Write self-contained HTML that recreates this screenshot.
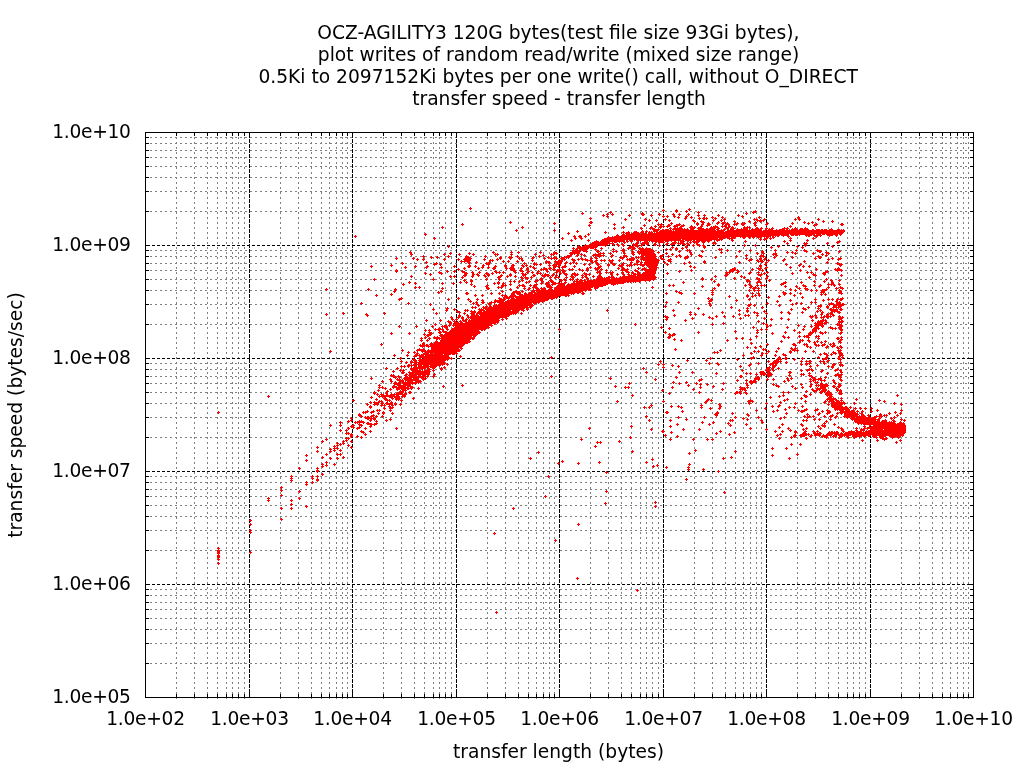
<!DOCTYPE html>
<html lang="en"><head><meta charset="utf-8"><title>OCZ-AGILITY3 random write plot</title>
<style>
html,body{margin:0;padding:0;background:#fff;}
body{width:1024px;height:768px;overflow:hidden;}
svg{display:block;}
text{font-family:"DejaVu Sans","Liberation Sans",sans-serif;font-size:18.67px;fill:#000;}
</style></head><body>
<svg width="1024" height="768" viewBox="0 0 1024 768">
<rect width="1024" height="768" fill="#fff"/>
<g shape-rendering="crispEdges" fill="none">
<path d="M176.5 699V132M194.5 699V132M207.5 699V132M217.5 699V132M226.5 699V132M232.5 699V132M238.5 699V132M244.5 699V132M280.5 699V132M298.5 699V132M311.5 699V132M321.5 699V132M329.5 699V132M336.5 699V132M342.5 699V132M347.5 699V132M383.5 699V132M401.5 699V132M414.5 699V132M424.5 699V132M433.5 699V132M439.5 699V132M445.5 699V132M451.5 699V132M487.5 699V132M505.5 699V132M518.5 699V132M528.5 699V132M536.5 699V132M543.5 699V132M549.5 699V132M554.5 699V132M590.5 699V132M608.5 699V132M621.5 699V132M631.5 699V132M640.5 699V132M646.5 699V132M652.5 699V132M658.5 699V132M694.5 699V132M712.5 699V132M725.5 699V132M735.5 699V132M743.5 699V132M750.5 699V132M756.5 699V132M761.5 699V132M797.5 699V132M815.5 699V132M828.5 699V132M838.5 699V132M847.5 699V132M853.5 699V132M859.5 699V132M865.5 699V132M901.5 699V132M919.5 699V132M932.5 699V132M942.5 699V132M950.5 699V132M957.5 699V132M963.5 699V132M968.5 699V132" stroke="#808080" stroke-width="1" stroke-dasharray="2 3"/>
<path d="M145 663.5H974M145 643.5H974M145 629.5H974M145 618.5H974M145 609.5H974M145 602.5H974M145 595.5H974M145 589.5H974M145 550.5H974M145 530.5H974M145 516.5H974M145 505.5H974M145 496.5H974M145 489.5H974M145 482.5H974M145 476.5H974M145 437.5H974M145 417.5H974M145 403.5H974M145 392.5H974M145 383.5H974M145 376.5H974M145 369.5H974M145 363.5H974M145 324.5H974M145 304.5H974M145 290.5H974M145 279.5H974M145 270.5H974M145 263.5H974M145 256.5H974M145 250.5H974M145 211.5H974M145 191.5H974M145 177.5H974M145 166.5H974M145 157.5H974M145 150.5H974M145 143.5H974M145 137.5H974" stroke="#808080" stroke-width="1" stroke-dasharray="2 3"/>
<path d="M249.5 698V132M352.5 698V132M456.5 698V132M559.5 698V132M663.5 698V132M766.5 698V132M870.5 698V132" stroke="#000" stroke-width="1" stroke-dasharray="4 1"/>
<path d="M147 584.5H974M147 471.5H974M147 358.5H974M147 245.5H974" stroke="#000" stroke-width="1" stroke-dasharray="3 2"/>
<path d="M176.5 697v-3M176.5 133v3M194.5 697v-3M194.5 133v3M207.5 697v-3M207.5 133v3M217.5 697v-3M217.5 133v3M226.5 697v-3M226.5 133v3M232.5 697v-3M232.5 133v3M238.5 697v-3M238.5 133v3M244.5 697v-3M244.5 133v3M280.5 697v-3M280.5 133v3M298.5 697v-3M298.5 133v3M311.5 697v-3M311.5 133v3M321.5 697v-3M321.5 133v3M329.5 697v-3M329.5 133v3M336.5 697v-3M336.5 133v3M342.5 697v-3M342.5 133v3M347.5 697v-3M347.5 133v3M383.5 697v-3M383.5 133v3M401.5 697v-3M401.5 133v3M414.5 697v-3M414.5 133v3M424.5 697v-3M424.5 133v3M433.5 697v-3M433.5 133v3M439.5 697v-3M439.5 133v3M445.5 697v-3M445.5 133v3M451.5 697v-3M451.5 133v3M487.5 697v-3M487.5 133v3M505.5 697v-3M505.5 133v3M518.5 697v-3M518.5 133v3M528.5 697v-3M528.5 133v3M536.5 697v-3M536.5 133v3M543.5 697v-3M543.5 133v3M549.5 697v-3M549.5 133v3M554.5 697v-3M554.5 133v3M590.5 697v-3M590.5 133v3M608.5 697v-3M608.5 133v3M621.5 697v-3M621.5 133v3M631.5 697v-3M631.5 133v3M640.5 697v-3M640.5 133v3M646.5 697v-3M646.5 133v3M652.5 697v-3M652.5 133v3M658.5 697v-3M658.5 133v3M694.5 697v-3M694.5 133v3M712.5 697v-3M712.5 133v3M725.5 697v-3M725.5 133v3M735.5 697v-3M735.5 133v3M743.5 697v-3M743.5 133v3M750.5 697v-3M750.5 133v3M756.5 697v-3M756.5 133v3M761.5 697v-3M761.5 133v3M797.5 697v-3M797.5 133v3M815.5 697v-3M815.5 133v3M828.5 697v-3M828.5 133v3M838.5 697v-3M838.5 133v3M847.5 697v-3M847.5 133v3M853.5 697v-3M853.5 133v3M859.5 697v-3M859.5 133v3M865.5 697v-3M865.5 133v3M901.5 697v-3M901.5 133v3M919.5 697v-3M919.5 133v3M932.5 697v-3M932.5 133v3M942.5 697v-3M942.5 133v3M950.5 697v-3M950.5 133v3M957.5 697v-3M957.5 133v3M963.5 697v-3M963.5 133v3M968.5 697v-3M968.5 133v3M249.5 697v-4M249.5 133v4M352.5 697v-4M352.5 133v4M456.5 697v-4M456.5 133v4M559.5 697v-4M559.5 133v4M663.5 697v-4M663.5 133v4M766.5 697v-4M766.5 133v4M870.5 697v-4M870.5 133v4M146 663.5h3M973 663.5h-3M146 643.5h3M973 643.5h-3M146 629.5h3M973 629.5h-3M146 618.5h3M973 618.5h-3M146 609.5h3M973 609.5h-3M146 602.5h3M973 602.5h-3M146 595.5h3M973 595.5h-3M146 589.5h3M973 589.5h-3M146 550.5h3M973 550.5h-3M146 530.5h3M973 530.5h-3M146 516.5h3M973 516.5h-3M146 505.5h3M973 505.5h-3M146 496.5h3M973 496.5h-3M146 489.5h3M973 489.5h-3M146 482.5h3M973 482.5h-3M146 476.5h3M973 476.5h-3M146 437.5h3M973 437.5h-3M146 417.5h3M973 417.5h-3M146 403.5h3M973 403.5h-3M146 392.5h3M973 392.5h-3M146 383.5h3M973 383.5h-3M146 376.5h3M973 376.5h-3M146 369.5h3M973 369.5h-3M146 363.5h3M973 363.5h-3M146 324.5h3M973 324.5h-3M146 304.5h3M973 304.5h-3M146 290.5h3M973 290.5h-3M146 279.5h3M973 279.5h-3M146 270.5h3M973 270.5h-3M146 263.5h3M973 263.5h-3M146 256.5h3M973 256.5h-3M146 250.5h3M973 250.5h-3M146 211.5h3M973 211.5h-3M146 191.5h3M973 191.5h-3M146 177.5h3M973 177.5h-3M146 166.5h3M973 166.5h-3M146 157.5h3M973 157.5h-3M146 150.5h3M973 150.5h-3M146 143.5h3M973 143.5h-3M146 137.5h3M973 137.5h-3M146 584.5h4M973 584.5h-4M146 471.5h4M973 471.5h-4M146 358.5h4M973 358.5h-4M146 245.5h4M973 245.5h-4" stroke="#000" stroke-width="1"/>
<rect x="145.5" y="132.5" width="828" height="565" stroke="#000" stroke-width="1"/>
</g>
<g text-anchor="end" style="letter-spacing:-0.3px">
<text x="130.7" y="702.5">1.0e+05</text>
<text x="130.7" y="589.5">1.0e+06</text>
<text x="130.7" y="476.5">1.0e+07</text>
<text x="130.7" y="363.5">1.0e+08</text>
<text x="130.7" y="250.5">1.0e+09</text>
<text x="130.7" y="137.5">1.0e+10</text>
</g>
<g text-anchor="middle" style="letter-spacing:-0.3px">
<text x="145.5" y="725">1.0e+02</text>
<text x="249.5" y="725">1.0e+03</text>
<text x="352.5" y="725">1.0e+04</text>
<text x="456.5" y="725">1.0e+05</text>
<text x="559.5" y="725">1.0e+06</text>
<text x="663.5" y="725">1.0e+07</text>
<text x="766.5" y="725">1.0e+08</text>
<text x="870.5" y="725">1.0e+09</text>
<text x="973.5" y="725">1.0e+10</text>
</g>
<g text-anchor="middle">
<text x="558.5" y="758">transfer length (bytes)</text>
<text transform="translate(22,415) rotate(-90)">transfer speed (bytes/sec)</text>
<text x="558.4" y="39.0">OCZ-AGILITY3 120G bytes(test file size 93Gi bytes),</text>
<text x="558.6" y="60.9">plot writes of random read/write (mixed size range)</text>
<text x="558.1" y="82.8">0.5Ki to 2097152Ki bytes per one write() call, without O_DIRECT</text>
<text x="559.0" y="104.7">transfer speed - transfer length</text>
</g>
<path d="M470 207.5h1M469 208.5h3M689 208.5h1M470 209.5h1M663 209.5h1M676 209.5h1M688 209.5h3M662 210.5h3M675 210.5h3M686 210.5h1M689 210.5h1M755 210.5h1M610 211.5h1M663 211.5h1M675 211.5h3M685 211.5h3M698 211.5h1M753 211.5h4M582 212.5h1M609 212.5h3M642 212.5h1M676 212.5h1M686 212.5h1M697 212.5h3M746 212.5h1M752 212.5h4M581 213.5h3M607 213.5h1M610 213.5h1M612 213.5h1M641 213.5h3M659 213.5h1M673 213.5h1M679 213.5h1M688 213.5h1M698 213.5h1M745 213.5h3M753 213.5h1M582 214.5h1M603 214.5h1M606 214.5h3M611 214.5h3M629 214.5h1M641 214.5h4M651 214.5h1M658 214.5h3M672 214.5h3M678 214.5h3M687 214.5h3M698 214.5h1M704 214.5h1M718 214.5h1M738 214.5h1M746 214.5h1M602 215.5h3M607 215.5h1M612 215.5h1M628 215.5h3M642 215.5h2M650 215.5h3M659 215.5h1M663 215.5h1M667 215.5h1M673 215.5h2M679 215.5h1M686 215.5h1M688 215.5h1M697 215.5h3M703 215.5h3M717 215.5h3M737 215.5h3M742 215.5h1M603 216.5h1M606 216.5h3M629 216.5h1M651 216.5h1M662 216.5h3M666 216.5h3M673 216.5h3M678 216.5h1M685 216.5h3M691 216.5h1M698 216.5h1M704 216.5h1M712 216.5h1M718 216.5h1M722 216.5h1M738 216.5h1M741 216.5h3M759 216.5h1M798 216.5h1M590 217.5h1M607 217.5h1M663 217.5h1M667 217.5h1M674 217.5h1M677 217.5h3M685 217.5h2M690 217.5h3M699 217.5h1M703 217.5h2M706 217.5h1M711 217.5h3M715 217.5h1M721 217.5h3M742 217.5h1M758 217.5h3M797 217.5h3M589 218.5h3M625 218.5h1M645 218.5h1M665 218.5h1M678 218.5h1M684 218.5h3M691 218.5h1M698 218.5h3M702 218.5h6M712 218.5h1M714 218.5h3M722 218.5h1M724 218.5h1M754 218.5h1M756 218.5h1M759 218.5h1M764 218.5h1M795 218.5h1M798 218.5h2M818 218.5h1M590 219.5h1M624 219.5h3M644 219.5h3M649 219.5h1M656 219.5h1M664 219.5h3M669 219.5h1M685 219.5h1M693 219.5h1M699 219.5h1M703 219.5h2M706 219.5h1M713 219.5h1M715 219.5h1M721 219.5h1M723 219.5h3M753 219.5h5M760 219.5h1M763 219.5h3M794 219.5h3M798 219.5h3M817 219.5h3M625 220.5h1M645 220.5h1M648 220.5h3M655 220.5h3M665 220.5h1M668 220.5h3M692 220.5h3M701 220.5h1M712 220.5h3M720 220.5h3M724 220.5h1M734 220.5h1M749 220.5h1M754 220.5h1M756 220.5h9M795 220.5h1M799 220.5h1M818 220.5h1M823 220.5h1M832 220.5h1M510 221.5h1M590 221.5h2M649 221.5h1M656 221.5h1M669 221.5h1M693 221.5h3M700 221.5h4M713 221.5h1M718 221.5h1M721 221.5h1M724 221.5h1M733 221.5h3M748 221.5h3M755 221.5h1M757 221.5h1M759 221.5h3M763 221.5h1M804 221.5h1M812 221.5h1M822 221.5h3M831 221.5h3M509 222.5h3M554 222.5h1M589 222.5h4M671 222.5h1M694 222.5h1M697 222.5h1M701 222.5h4M708 222.5h1M717 222.5h3M722 222.5h4M727 222.5h1M734 222.5h1M737 222.5h1M742 222.5h1M744 222.5h1M749 222.5h1M754 222.5h3M760 222.5h1M767 222.5h1M792 222.5h1M803 222.5h3M808 222.5h1M811 222.5h3M823 222.5h1M832 222.5h1M462 223.5h1M510 223.5h1M553 223.5h3M590 223.5h2M614 223.5h1M658 223.5h1M661 223.5h1M670 223.5h3M679 223.5h1M696 223.5h3M702 223.5h2M707 223.5h3M716 223.5h3M721 223.5h4M726 223.5h3M734 223.5h1M736 223.5h3M741 223.5h5M753 223.5h3M766 223.5h3M791 223.5h3M804 223.5h1M807 223.5h3M812 223.5h1M816 223.5h1M841 223.5h2M461 224.5h3M554 224.5h1M589 224.5h1M613 224.5h3M644 224.5h1M657 224.5h6M668 224.5h2M671 224.5h1M676 224.5h5M683 224.5h1M696 224.5h3M701 224.5h3M707 224.5h4M717 224.5h1M722 224.5h2M725 224.5h5M733 224.5h5M741 224.5h4M754 224.5h2M765 224.5h3M792 224.5h1M808 224.5h1M814 224.5h4M840 224.5h4M462 225.5h1M588 225.5h3M614 225.5h1M643 225.5h3M655 225.5h1M658 225.5h1M660 225.5h2M663 225.5h1M667 225.5h4M674 225.5h6M681 225.5h4M691 225.5h1M697 225.5h1M701 225.5h2M706 225.5h4M715 225.5h1M722 225.5h1M724 225.5h3M728 225.5h2M734 225.5h1M736 225.5h1M742 225.5h2M754 225.5h3M766 225.5h1M790 225.5h1M813 225.5h4M841 225.5h2M442 226.5h1M522 226.5h1M589 226.5h1M623 226.5h1M644 226.5h1M651 226.5h1M654 226.5h3M659 226.5h6M666 226.5h4M673 226.5h5M680 226.5h4M690 226.5h3M694 226.5h1M700 226.5h3M707 226.5h1M711 226.5h1M713 226.5h5M721 226.5h6M728 226.5h3M732 226.5h1M744 226.5h1M747 226.5h1M749 226.5h1M755 226.5h1M789 226.5h3M814 226.5h1M441 227.5h3M521 227.5h3M614 227.5h1M622 227.5h3M641 227.5h1M650 227.5h3M655 227.5h1M659 227.5h3M663 227.5h1M667 227.5h1M670 227.5h1M674 227.5h2M677 227.5h1M679 227.5h3M689 227.5h7M698 227.5h4M710 227.5h9M722 227.5h1M725 227.5h5M731 227.5h3M743 227.5h8M756 227.5h2M761 227.5h1M766 227.5h1M772 227.5h1M784 227.5h1M787 227.5h1M790 227.5h1M795 227.5h1M805 227.5h1M442 228.5h1M522 228.5h1M613 228.5h3M623 228.5h1M640 228.5h3M649 228.5h6M658 228.5h1M660 228.5h1M669 228.5h3M673 228.5h10M684 228.5h1M687 228.5h1M690 228.5h5M697 228.5h7M706 228.5h2M709 228.5h7M717 228.5h3M724 228.5h1M726 228.5h3M730 228.5h5M737 228.5h1M741 228.5h1M743 228.5h5M749 228.5h1M752 228.5h1M755 228.5h4M760 228.5h3M765 228.5h3M769 228.5h1M771 228.5h3M782 228.5h7M792 228.5h1M794 228.5h3M800 228.5h3M804 228.5h4M831 228.5h1M516 229.5h1M554 229.5h1M614 229.5h1M641 229.5h1M650 229.5h1M652 229.5h8M662 229.5h2M665 229.5h4M670 229.5h1M672 229.5h17M690 229.5h4M698 229.5h17M716 229.5h3M721 229.5h1M723 229.5h3M727 229.5h2M730 229.5h4M736 229.5h12M749 229.5h1M751 229.5h11M765 229.5h2M768 229.5h5M776 229.5h1M779 229.5h6M786 229.5h2M789 229.5h1M791 229.5h7M799 229.5h10M812 229.5h2M816 229.5h4M821 229.5h2M824 229.5h3M829 229.5h4M837 229.5h3M841 229.5h1M843 229.5h1M515 230.5h3M553 230.5h3M577 230.5h1M642 230.5h1M646 230.5h1M653 230.5h6M660 230.5h12M673 230.5h1M675 230.5h41M717 230.5h8M727 230.5h35M763 230.5h82M516 231.5h1M554 231.5h1M576 231.5h3M605 231.5h1M623 231.5h1M628 231.5h1M634 231.5h3M641 231.5h3M645 231.5h3M649 231.5h1M651 231.5h1M653 231.5h5M659 231.5h65M725 231.5h120M568 232.5h1M577 232.5h1M604 232.5h3M622 232.5h3M626 232.5h4M633 232.5h6M640 232.5h4M645 232.5h2M648 232.5h5M654 232.5h1M656 232.5h188M425 233.5h1M567 233.5h3M588 233.5h1M605 233.5h1M623 233.5h1M625 233.5h5M631 233.5h9M641 233.5h6M648 233.5h195M424 234.5h3M568 234.5h1M587 234.5h3M617 234.5h1M622 234.5h3M626 234.5h163M790 234.5h25M816 234.5h5M822 234.5h3M826 234.5h12M839 234.5h3M355 235.5h1M425 235.5h1M574 235.5h1M579 235.5h2M585 235.5h1M588 235.5h1M616 235.5h3M621 235.5h159M781 235.5h8M791 235.5h3M795 235.5h3M799 235.5h1M805 235.5h7M813 235.5h9M827 235.5h6M835 235.5h3M840 235.5h1M354 236.5h3M573 236.5h3M578 236.5h4M584 236.5h3M608 236.5h1M612 236.5h1M614 236.5h157M772 236.5h2M775 236.5h1M777 236.5h2M783 236.5h1M787 236.5h3M806 236.5h1M808 236.5h2M814 236.5h4M820 236.5h1M829 236.5h1M836 236.5h1M355 237.5h1M434 237.5h1M562 237.5h1M574 237.5h2M579 237.5h3M585 237.5h1M607 237.5h123M731 237.5h5M740 237.5h1M742 237.5h4M748 237.5h3M752 237.5h3M757 237.5h5M764 237.5h1M766 237.5h3M770 237.5h1M772 237.5h3M788 237.5h1M790 237.5h1M813 237.5h1M816 237.5h1M433 238.5h3M561 238.5h3M574 238.5h3M580 238.5h3M604 238.5h114M719 238.5h6M727 238.5h8M743 238.5h2M749 238.5h1M753 238.5h1M758 238.5h1M760 238.5h1M764 238.5h4M769 238.5h3M773 238.5h1M789 238.5h3M812 238.5h3M434 239.5h1M562 239.5h1M571 239.5h1M575 239.5h1M581 239.5h1M588 239.5h1M602 239.5h79M682 239.5h41M729 239.5h1M731 239.5h2M759 239.5h3M763 239.5h4M770 239.5h1M790 239.5h1M807 239.5h1M813 239.5h1M570 240.5h3M587 240.5h3M596 240.5h1M601 240.5h24M626 240.5h2M629 240.5h4M634 240.5h1M636 240.5h48M685 240.5h7M693 240.5h2M696 240.5h16M714 240.5h1M716 240.5h4M721 240.5h1M731 240.5h3M745 240.5h1M760 240.5h1M764 240.5h1M784 240.5h1M789 240.5h3M806 240.5h3M839 240.5h1M571 241.5h1M588 241.5h1M594 241.5h5M600 241.5h25M626 241.5h3M630 241.5h3M637 241.5h2M640 241.5h1M644 241.5h4M649 241.5h1M651 241.5h13M665 241.5h4M671 241.5h1M674 241.5h2M678 241.5h1M680 241.5h5M687 241.5h2M690 241.5h1M692 241.5h8M701 241.5h5M707 241.5h3M714 241.5h1M717 241.5h1M732 241.5h1M744 241.5h3M783 241.5h3M790 241.5h1M807 241.5h1M837 241.5h4M592 242.5h18M612 242.5h1M614 242.5h3M619 242.5h1M623 242.5h3M627 242.5h1M631 242.5h1M636 242.5h3M642 242.5h7M652 242.5h1M655 242.5h2M658 242.5h7M667 242.5h1M672 242.5h5M678 242.5h1M680 242.5h4M687 242.5h1M689 242.5h3M693 242.5h6M702 242.5h3M708 242.5h1M713 242.5h3M745 242.5h1M784 242.5h1M787 242.5h1M804 242.5h1M806 242.5h1M827 242.5h1M836 242.5h4M591 243.5h23M617 243.5h1M622 243.5h1M624 243.5h1M633 243.5h1M635 243.5h4M641 243.5h8M654 243.5h2M659 243.5h1M663 243.5h1M666 243.5h3M671 243.5h5M677 243.5h8M686 243.5h3M690 243.5h1M694 243.5h1M696 243.5h2M703 243.5h1M712 243.5h5M786 243.5h3M803 243.5h5M826 243.5h3M837 243.5h1M585 244.5h1M589 244.5h19M609 244.5h1M612 244.5h3M616 244.5h3M621 244.5h3M632 244.5h6M641 244.5h4M646 244.5h3M653 244.5h4M659 244.5h1M665 244.5h3M670 244.5h5M678 244.5h1M680 244.5h1M682 244.5h4M687 244.5h3M693 244.5h1M696 244.5h4M703 244.5h1M713 244.5h1M715 244.5h1M744 244.5h1M755 244.5h1M787 244.5h1M804 244.5h3M827 244.5h1M448 245.5h1M578 245.5h1M584 245.5h14M599 245.5h8M613 245.5h1M617 245.5h3M622 245.5h3M630 245.5h1M633 245.5h6M640 245.5h3M647 245.5h1M654 245.5h2M658 245.5h3M666 245.5h1M671 245.5h1M684 245.5h1M686 245.5h1M688 245.5h1M692 245.5h3M697 245.5h4M702 245.5h3M743 245.5h3M754 245.5h3M778 245.5h1M797 245.5h1M804 245.5h3M832 245.5h1M447 246.5h3M577 246.5h4M582 246.5h16M605 246.5h1M618 246.5h1M623 246.5h1M629 246.5h5M635 246.5h4M641 246.5h1M659 246.5h1M672 246.5h1M685 246.5h3M693 246.5h1M699 246.5h1M703 246.5h3M744 246.5h1M755 246.5h1M771 246.5h1M777 246.5h3M796 246.5h3M802 246.5h1M805 246.5h1M831 246.5h3M448 247.5h1M573 247.5h1M577 247.5h20M601 247.5h1M628 247.5h7M637 247.5h1M639 247.5h1M642 247.5h1M646 247.5h1M671 247.5h3M676 247.5h1M682 247.5h1M685 247.5h3M703 247.5h3M770 247.5h3M778 247.5h1M797 247.5h1M801 247.5h3M832 247.5h1M572 248.5h3M576 248.5h13M590 248.5h4M595 248.5h1M600 248.5h3M613 248.5h1M623 248.5h1M627 248.5h4M632 248.5h4M638 248.5h6M645 248.5h6M666 248.5h1M670 248.5h1M672 248.5h1M675 248.5h3M681 248.5h3M686 248.5h1M704 248.5h1M719 248.5h1M721 248.5h1M771 248.5h1M802 248.5h1M573 249.5h1M575 249.5h3M579 249.5h9M594 249.5h3M601 249.5h1M612 249.5h3M622 249.5h3M628 249.5h1M631 249.5h4M639 249.5h14M665 249.5h3M669 249.5h3M675 249.5h3M682 249.5h1M687 249.5h1M689 249.5h1M718 249.5h5M727 249.5h1M750 249.5h1M775 249.5h1M796 249.5h1M804 249.5h1M817 249.5h1M572 250.5h9M582 250.5h5M595 250.5h1M597 250.5h2M613 250.5h1M616 250.5h1M621 250.5h4M632 250.5h1M638 250.5h1M640 250.5h14M666 250.5h1M670 250.5h1M676 250.5h1M679 250.5h1M686 250.5h5M702 250.5h1M719 250.5h1M721 250.5h1M726 250.5h3M739 250.5h1M749 250.5h3M762 250.5h1M774 250.5h3M795 250.5h3M803 250.5h4M816 250.5h5M839 250.5h1M410 251.5h1M493 251.5h1M511 251.5h1M518 251.5h1M540 251.5h1M554 251.5h1M572 251.5h9M583 251.5h5M596 251.5h4M612 251.5h6M622 251.5h3M631 251.5h3M637 251.5h18M658 251.5h1M678 251.5h3M687 251.5h1M689 251.5h2M701 251.5h3M721 251.5h1M727 251.5h1M738 251.5h3M750 251.5h1M761 251.5h3M775 251.5h1M787 251.5h1M792 251.5h1M796 251.5h1M804 251.5h4M817 251.5h5M826 251.5h1M838 251.5h3M409 252.5h3M450 252.5h1M469 252.5h1M492 252.5h3M510 252.5h3M517 252.5h3M539 252.5h3M553 252.5h4M570 252.5h10M586 252.5h1M597 252.5h2M600 252.5h1M603 252.5h1M610 252.5h1M613 252.5h1M616 252.5h1M623 252.5h2M632 252.5h3M637 252.5h17M657 252.5h3M666 252.5h1M679 252.5h1M689 252.5h3M702 252.5h1M720 252.5h3M739 252.5h1M757 252.5h1M761 252.5h3M775 252.5h1M786 252.5h3M791 252.5h3M795 252.5h1M806 252.5h1M813 252.5h1M819 252.5h2M825 252.5h4M839 252.5h1M410 253.5h2M444 253.5h1M449 253.5h3M459 253.5h1M468 253.5h3M473 253.5h1M493 253.5h1M495 253.5h1M497 253.5h1M511 253.5h1M518 253.5h1M535 253.5h1M540 253.5h1M551 253.5h1M553 253.5h5M569 253.5h11M581 253.5h1M595 253.5h1M598 253.5h7M609 253.5h3M623 253.5h3M631 253.5h3M638 253.5h17M658 253.5h1M665 253.5h3M672 253.5h1M690 253.5h2M721 253.5h1M756 253.5h3M762 253.5h3M773 253.5h4M787 253.5h1M792 253.5h1M794 253.5h3M812 253.5h3M822 253.5h1M826 253.5h4M410 254.5h3M443 254.5h3M450 254.5h1M458 254.5h3M469 254.5h1M472 254.5h3M494 254.5h5M510 254.5h3M534 254.5h3M543 254.5h1M550 254.5h5M556 254.5h1M570 254.5h3M574 254.5h1M577 254.5h2M580 254.5h3M584 254.5h1M593 254.5h8M603 254.5h1M610 254.5h1M612 254.5h1M624 254.5h1M632 254.5h3M639 254.5h1M641 254.5h15M662 254.5h1M666 254.5h1M671 254.5h3M679 254.5h1M690 254.5h3M699 254.5h1M746 254.5h1M757 254.5h1M761 254.5h1M763 254.5h1M772 254.5h5M795 254.5h1M813 254.5h1M821 254.5h3M826 254.5h1M828 254.5h1M411 255.5h1M423 255.5h1M444 255.5h1M448 255.5h1M459 255.5h1M466 255.5h1M473 255.5h1M485 255.5h1M495 255.5h1M497 255.5h1M511 255.5h1M517 255.5h1M535 255.5h1M539 255.5h1M542 255.5h3M551 255.5h1M553 255.5h1M567 255.5h5M576 255.5h3M581 255.5h1M583 255.5h3M592 255.5h13M611 255.5h3M623 255.5h4M633 255.5h1M641 255.5h15M660 255.5h4M668 255.5h1M672 255.5h1M676 255.5h1M678 255.5h3M687 255.5h1M691 255.5h1M698 255.5h4M736 255.5h1M745 255.5h3M760 255.5h4M773 255.5h1M775 255.5h3M818 255.5h1M822 255.5h1M825 255.5h3M422 256.5h3M431 256.5h1M437 256.5h1M447 256.5h3M465 256.5h4M484 256.5h3M500 256.5h1M509 256.5h1M511 256.5h1M516 256.5h3M533 256.5h1M538 256.5h3M543 256.5h1M548 256.5h1M554 256.5h1M564 256.5h1M566 256.5h5M577 256.5h1M584 256.5h1M593 256.5h1M595 256.5h1M597 256.5h4M603 256.5h1M610 256.5h3M620 256.5h1M623 256.5h5M636 256.5h1M638 256.5h1M640 256.5h4M645 256.5h12M659 256.5h4M667 256.5h3M675 256.5h3M679 256.5h3M685 256.5h4M699 256.5h4M715 256.5h1M735 256.5h3M746 256.5h1M759 256.5h6M774 256.5h1M776 256.5h1M792 256.5h1M817 256.5h4M826 256.5h1M396 257.5h1M413 257.5h1M423 257.5h1M430 257.5h3M436 257.5h3M448 257.5h1M465 257.5h6M485 257.5h1M499 257.5h3M508 257.5h5M517 257.5h1M519 257.5h1M521 257.5h1M532 257.5h3M539 257.5h1M544 257.5h1M547 257.5h3M551 257.5h1M553 257.5h4M561 257.5h9M581 257.5h1M591 257.5h1M594 257.5h3M599 257.5h1M611 257.5h1M619 257.5h6M626 257.5h1M631 257.5h3M635 257.5h5M641 257.5h15M660 257.5h2M668 257.5h1M676 257.5h1M680 257.5h1M684 257.5h5M701 257.5h1M714 257.5h3M736 257.5h1M746 257.5h1M760 257.5h1M763 257.5h1M765 257.5h1M773 257.5h3M791 257.5h3M815 257.5h1M818 257.5h4M832 257.5h1M840 257.5h1M395 258.5h3M412 258.5h3M417 258.5h1M423 258.5h1M431 258.5h1M437 258.5h1M444 258.5h1M458 258.5h1M464 258.5h8M484 258.5h1M497 258.5h1M499 258.5h3M509 258.5h3M518 258.5h5M531 258.5h3M543 258.5h3M548 258.5h1M550 258.5h8M560 258.5h5M566 258.5h1M568 258.5h1M572 258.5h1M578 258.5h1M580 258.5h3M585 258.5h1M590 258.5h3M595 258.5h3M620 258.5h4M627 258.5h1M629 258.5h6M636 258.5h1M638 258.5h1M641 258.5h16M660 258.5h4M670 258.5h1M684 258.5h4M715 258.5h1M745 258.5h3M751 258.5h1M759 258.5h3M764 258.5h3M774 258.5h1M784 258.5h1M792 258.5h1M814 258.5h3M819 258.5h2M828 258.5h1M831 258.5h3M838 258.5h4M396 259.5h1M413 259.5h1M416 259.5h3M422 259.5h3M443 259.5h3M457 259.5h3M463 259.5h8M483 259.5h3M490 259.5h1M492 259.5h1M496 259.5h3M500 259.5h1M510 259.5h1M519 259.5h1M521 259.5h2M532 259.5h1M544 259.5h1M551 259.5h1M554 259.5h1M556 259.5h1M559 259.5h1M561 259.5h5M571 259.5h4M577 259.5h3M581 259.5h7M590 259.5h2M596 259.5h1M601 259.5h1M604 259.5h1M609 259.5h1M612 259.5h1M619 259.5h1M622 259.5h1M626 259.5h9M637 259.5h1M640 259.5h19M661 259.5h4M668 259.5h4M685 259.5h1M746 259.5h1M749 259.5h4M757 259.5h1M759 259.5h3M763 259.5h3M768 259.5h1M783 259.5h3M815 259.5h1M827 259.5h3M832 259.5h1M837 259.5h4M417 260.5h1M423 260.5h1M444 260.5h1M458 260.5h1M461 260.5h1M464 260.5h7M484 260.5h1M489 260.5h5M497 260.5h1M503 260.5h1M508 260.5h1M517 260.5h1M521 260.5h3M531 260.5h3M546 260.5h1M555 260.5h1M558 260.5h5M564 260.5h1M572 260.5h4M578 260.5h1M582 260.5h1M585 260.5h8M595 260.5h3M600 260.5h6M608 260.5h6M618 260.5h3M627 260.5h1M629 260.5h5M636 260.5h3M641 260.5h1M643 260.5h17M663 260.5h1M667 260.5h4M704 260.5h1M748 260.5h4M756 260.5h3M760 260.5h3M764 260.5h1M767 260.5h3M782 260.5h3M804 260.5h1M828 260.5h1M838 260.5h1M426 261.5h1M460 261.5h10M476 261.5h1M489 261.5h2M492 261.5h1M502 261.5h3M507 261.5h3M516 261.5h3M522 261.5h1M532 261.5h1M545 261.5h5M554 261.5h9M566 261.5h1M573 261.5h2M587 261.5h1M590 261.5h3M594 261.5h3M601 261.5h1M604 261.5h1M609 261.5h4M619 261.5h1M631 261.5h1M636 261.5h4M641 261.5h1M645 261.5h14M664 261.5h1M668 261.5h4M689 261.5h1M703 261.5h3M739 261.5h1M749 261.5h1M757 261.5h7M766 261.5h1M768 261.5h1M783 261.5h1M803 261.5h3M827 261.5h1M402 262.5h1M425 262.5h3M436 262.5h1M461 262.5h1M464 262.5h1M467 262.5h4M475 262.5h3M486 262.5h1M488 262.5h3M503 262.5h1M508 262.5h1M517 262.5h1M524 262.5h1M534 262.5h1M545 262.5h6M555 262.5h7M565 262.5h3M570 262.5h1M572 262.5h3M576 262.5h1M591 262.5h3M595 262.5h3M610 262.5h3M623 262.5h1M630 262.5h3M636 262.5h3M640 262.5h3M644 262.5h15M663 262.5h3M670 262.5h1M684 262.5h1M688 262.5h3M703 262.5h3M738 262.5h3M758 262.5h1M761 262.5h2M765 262.5h3M804 262.5h1M826 262.5h3M837 262.5h1M401 263.5h3M426 263.5h1M434 263.5h4M440 263.5h1M468 263.5h2M476 263.5h1M485 263.5h5M523 263.5h3M533 263.5h4M540 263.5h1M546 263.5h1M548 263.5h2M554 263.5h1M556 263.5h6M564 263.5h3M569 263.5h3M573 263.5h1M575 263.5h3M584 263.5h1M589 263.5h1M592 263.5h1M596 263.5h3M608 263.5h1M611 263.5h4M622 263.5h3M630 263.5h2M634 263.5h1M637 263.5h1M640 263.5h2M644 263.5h14M664 263.5h1M667 263.5h1M683 263.5h3M689 263.5h1M704 263.5h1M739 263.5h1M765 263.5h2M786 263.5h1M800 263.5h1M827 263.5h1M836 263.5h4M841 263.5h1M391 264.5h1M402 264.5h1M433 264.5h4M439 264.5h3M469 264.5h1M483 264.5h1M486 264.5h4M505 264.5h1M512 264.5h2M522 264.5h1M524 264.5h1M526 264.5h1M533 264.5h5M539 264.5h3M549 264.5h1M553 264.5h8M565 264.5h1M570 264.5h1M576 264.5h1M583 264.5h3M588 264.5h3M596 264.5h4M607 264.5h3M612 264.5h4M619 264.5h1M621 264.5h3M627 264.5h1M629 264.5h3M633 264.5h25M666 264.5h3M684 264.5h1M760 264.5h1M764 264.5h3M785 264.5h3M799 264.5h3M837 264.5h6M371 265.5h1M390 265.5h3M415 265.5h1M427 265.5h1M434 265.5h1M440 265.5h1M454 265.5h1M468 265.5h3M475 265.5h1M482 265.5h3M488 265.5h1M495 265.5h1M504 265.5h3M511 265.5h4M521 265.5h3M525 265.5h3M530 265.5h1M534 265.5h1M536 265.5h1M540 265.5h1M548 265.5h3M552 265.5h5M558 265.5h3M564 265.5h2M574 265.5h1M584 265.5h1M589 265.5h1M597 265.5h2M600 265.5h1M607 265.5h3M613 265.5h2M618 265.5h6M626 265.5h7M634 265.5h1M637 265.5h1M640 265.5h5M646 265.5h12M667 265.5h1M690 265.5h1M759 265.5h3M765 265.5h1M786 265.5h1M798 265.5h3M803 265.5h1M809 265.5h1M839 265.5h3M370 266.5h3M391 266.5h1M405 266.5h1M414 266.5h3M426 266.5h3M441 266.5h1M453 266.5h3M467 266.5h4M474 266.5h3M482 266.5h2M488 266.5h1M494 266.5h3M504 266.5h3M511 266.5h3M522 266.5h3M526 266.5h1M529 266.5h3M533 266.5h1M549 266.5h1M553 266.5h7M562 266.5h5M573 266.5h3M590 266.5h1M598 266.5h4M608 266.5h1M619 266.5h4M627 266.5h1M629 266.5h1M631 266.5h1M642 266.5h2M647 266.5h10M689 266.5h3M694 266.5h1M759 266.5h3M766 266.5h1M790 266.5h1M799 266.5h1M802 266.5h3M808 266.5h3M840 266.5h1M371 267.5h1M404 267.5h3M415 267.5h1M425 267.5h3M440 267.5h3M454 267.5h1M464 267.5h1M468 267.5h2M475 267.5h1M478 267.5h1M481 267.5h3M487 267.5h3M493 267.5h3M505 267.5h2M510 267.5h4M521 267.5h1M523 267.5h1M527 267.5h1M530 267.5h1M532 267.5h3M544 267.5h1M549 267.5h2M553 267.5h3M558 267.5h1M561 267.5h5M574 267.5h1M587 267.5h1M589 267.5h3M595 267.5h1M597 267.5h4M618 267.5h1M621 267.5h3M638 267.5h1M644 267.5h1M648 267.5h10M690 267.5h1M693 267.5h3M734 267.5h1M758 267.5h1M760 267.5h1M765 267.5h3M789 267.5h3M803 267.5h1M809 267.5h1M838 267.5h1M405 268.5h1M426 268.5h1M441 268.5h1M458 268.5h1M463 268.5h3M477 268.5h3M482 268.5h1M488 268.5h1M492 268.5h4M505 268.5h3M509 268.5h6M520 268.5h3M526 268.5h3M533 268.5h3M541 268.5h1M543 268.5h4M548 268.5h4M553 268.5h2M559 268.5h1M562 268.5h1M569 268.5h1M572 268.5h1M579 268.5h1M586 268.5h3M590 268.5h1M594 268.5h6M601 268.5h1M617 268.5h3M622 268.5h3M627 268.5h1M637 268.5h3M642 268.5h4M649 268.5h8M694 268.5h1M732 268.5h4M752 268.5h1M757 268.5h5M764 268.5h3M790 268.5h1M816 268.5h1M835 268.5h1M837 268.5h3M396 269.5h1M457 269.5h3M464 269.5h1M478 269.5h1M493 269.5h2M506 269.5h1M510 269.5h5M520 269.5h2M526 269.5h3M534 269.5h1M540 269.5h8M549 269.5h2M552 269.5h4M557 269.5h4M562 269.5h2M568 269.5h6M578 269.5h3M582 269.5h1M586 269.5h3M595 269.5h4M600 269.5h3M606 269.5h1M618 269.5h1M621 269.5h8M635 269.5h1M638 269.5h1M641 269.5h16M691 269.5h1M730 269.5h6M737 269.5h1M751 269.5h3M758 269.5h3M762 269.5h1M765 269.5h1M800 269.5h1M815 269.5h3M834 269.5h8M395 270.5h3M447 270.5h1M454 270.5h1M458 270.5h1M462 270.5h1M495 270.5h1M511 270.5h5M519 270.5h4M527 270.5h2M538 270.5h1M541 270.5h1M543 270.5h1M546 270.5h2M553 270.5h2M556 270.5h4M561 270.5h4M569 270.5h1M572 270.5h1M579 270.5h1M581 270.5h3M586 270.5h3M597 270.5h1M599 270.5h1M601 270.5h1M605 270.5h3M621 270.5h7M634 270.5h4M642 270.5h1M644 270.5h12M679 270.5h1M690 270.5h3M729 270.5h6M736 270.5h3M752 270.5h1M759 270.5h1M761 270.5h3M799 270.5h3M816 270.5h1M827 270.5h1M835 270.5h8M395 271.5h3M439 271.5h1M446 271.5h3M453 271.5h3M461 271.5h4M472 271.5h1M479 271.5h1M494 271.5h3M499 271.5h1M503 271.5h1M513 271.5h3M520 271.5h4M527 271.5h3M532 271.5h1M537 271.5h3M546 271.5h3M556 271.5h5M562 271.5h4M582 271.5h1M587 271.5h1M597 271.5h4M606 271.5h1M610 271.5h1M612 271.5h1M622 271.5h1M625 271.5h4M632 271.5h1M635 271.5h4M645 271.5h11M678 271.5h3M691 271.5h1M726 271.5h1M729 271.5h5M737 271.5h3M750 271.5h1M758 271.5h1M762 271.5h1M767 271.5h1M800 271.5h1M807 271.5h1M811 271.5h1M825 271.5h4M837 271.5h1M841 271.5h1M396 272.5h1M425 272.5h1M438 272.5h4M447 272.5h1M454 272.5h1M462 272.5h5M471 272.5h3M478 272.5h3M486 272.5h1M492 272.5h1M495 272.5h6M502 272.5h3M514 272.5h3M522 272.5h1M526 272.5h3M531 272.5h3M537 272.5h2M540 272.5h1M547 272.5h1M555 272.5h3M559 272.5h2M562 272.5h3M574 272.5h1M584 272.5h1M596 272.5h5M605 272.5h3M609 272.5h5M621 272.5h3M626 272.5h4M631 272.5h3M637 272.5h3M643 272.5h13M667 272.5h1M679 272.5h1M725 272.5h6M732 272.5h1M736 272.5h3M749 272.5h3M757 272.5h3M764 272.5h1M766 272.5h3M792 272.5h1M806 272.5h3M810 272.5h3M823 272.5h5M424 273.5h3M430 273.5h1M439 273.5h4M464 273.5h4M472 273.5h2M477 273.5h1M479 273.5h1M485 273.5h4M491 273.5h3M496 273.5h1M499 273.5h1M503 273.5h1M510 273.5h1M515 273.5h1M521 273.5h3M525 273.5h1M527 273.5h1M532 273.5h1M536 273.5h6M545 273.5h1M553 273.5h1M556 273.5h1M559 273.5h3M563 273.5h4M572 273.5h4M577 273.5h1M583 273.5h4M589 273.5h1M597 273.5h1M599 273.5h3M606 273.5h1M610 273.5h3M617 273.5h1M622 273.5h2M628 273.5h1M632 273.5h4M637 273.5h3M642 273.5h14M666 273.5h3M726 273.5h2M729 273.5h1M737 273.5h1M748 273.5h3M758 273.5h1M761 273.5h1M763 273.5h3M767 273.5h1M791 273.5h3M807 273.5h1M811 273.5h1M813 273.5h1M822 273.5h4M425 274.5h1M429 274.5h3M441 274.5h1M464 274.5h3M472 274.5h3M476 274.5h3M484 274.5h1M486 274.5h4M492 274.5h1M501 274.5h1M509 274.5h3M522 274.5h5M533 274.5h2M537 274.5h1M540 274.5h1M542 274.5h1M544 274.5h5M552 274.5h3M556 274.5h1M560 274.5h1M564 274.5h4M571 274.5h8M582 274.5h1M584 274.5h7M599 274.5h2M610 274.5h3M616 274.5h3M622 274.5h3M627 274.5h3M631 274.5h1M633 274.5h22M667 274.5h1M725 274.5h4M749 274.5h1M757 274.5h6M764 274.5h1M792 274.5h1M812 274.5h4M823 274.5h3M841 274.5h1M411 275.5h1M430 275.5h1M450 275.5h1M454 275.5h1M463 275.5h4M472 275.5h2M477 275.5h3M483 275.5h3M487 275.5h3M500 275.5h3M507 275.5h1M509 275.5h3M515 275.5h1M522 275.5h4M532 275.5h4M541 275.5h9M551 275.5h3M555 275.5h3M565 275.5h2M571 275.5h2M574 275.5h4M581 275.5h3M585 275.5h2M589 275.5h1M593 275.5h1M598 275.5h3M611 275.5h2M617 275.5h1M623 275.5h2M628 275.5h8M637 275.5h18M715 275.5h1M724 275.5h4M741 275.5h1M758 275.5h4M767 275.5h1M813 275.5h4M824 275.5h1M840 275.5h3M410 276.5h3M449 276.5h3M453 276.5h3M462 276.5h1M464 276.5h2M471 276.5h3M478 276.5h1M484 276.5h3M488 276.5h1M498 276.5h4M506 276.5h3M510 276.5h1M514 276.5h3M521 276.5h1M523 276.5h1M525 276.5h1M531 276.5h1M533 276.5h2M542 276.5h4M547 276.5h2M550 276.5h1M552 276.5h1M555 276.5h2M558 276.5h1M566 276.5h1M570 276.5h4M575 276.5h1M582 276.5h1M584 276.5h3M592 276.5h3M597 276.5h5M608 276.5h2M611 276.5h3M620 276.5h1M622 276.5h34M714 276.5h3M725 276.5h2M740 276.5h3M744 276.5h1M760 276.5h1M766 276.5h3M809 276.5h1M815 276.5h1M841 276.5h1M411 277.5h1M450 277.5h1M454 277.5h1M461 277.5h3M472 277.5h1M485 277.5h1M497 277.5h4M507 277.5h1M515 277.5h1M520 277.5h3M524 277.5h4M530 277.5h3M541 277.5h1M544 277.5h1M549 277.5h3M554 277.5h6M565 277.5h3M571 277.5h4M581 277.5h3M585 277.5h3M593 277.5h1M597 277.5h6M604 277.5h1M606 277.5h9M616 277.5h1M619 277.5h38M702 277.5h1M715 277.5h1M734 277.5h1M741 277.5h1M743 277.5h3M757 277.5h1M766 277.5h2M808 277.5h3M374 278.5h1M433 278.5h1M462 278.5h1M486 278.5h1M498 278.5h2M521 278.5h3M525 278.5h4M531 278.5h1M540 278.5h3M550 278.5h1M555 278.5h1M558 278.5h1M564 278.5h1M566 278.5h1M570 278.5h1M572 278.5h2M577 278.5h1M582 278.5h1M586 278.5h3M596 278.5h14M611 278.5h45M701 278.5h3M711 278.5h1M733 278.5h3M744 278.5h1M756 278.5h4M765 278.5h3M809 278.5h1M826 278.5h1M373 279.5h3M432 279.5h3M464 279.5h1M471 279.5h1M485 279.5h3M498 279.5h3M522 279.5h1M527 279.5h1M537 279.5h1M539 279.5h4M550 279.5h2M560 279.5h2M563 279.5h3M569 279.5h5M576 279.5h3M580 279.5h2M584 279.5h1M587 279.5h2M593 279.5h2M596 279.5h59M701 279.5h3M710 279.5h3M734 279.5h1M747 279.5h2M757 279.5h4M766 279.5h1M769 279.5h1M825 279.5h3M831 279.5h1M839 279.5h1M374 280.5h1M433 280.5h1M463 280.5h3M470 280.5h3M486 280.5h1M499 280.5h1M510 280.5h1M514 280.5h1M519 280.5h1M521 280.5h3M529 280.5h1M535 280.5h4M540 280.5h3M549 280.5h4M559 280.5h4M564 280.5h3M570 280.5h1M572 280.5h1M574 280.5h1M576 280.5h2M579 280.5h7M587 280.5h64M653 280.5h1M702 280.5h1M711 280.5h1M714 280.5h1M746 280.5h4M758 280.5h2M768 280.5h3M814 280.5h1M824 280.5h1M826 280.5h1M830 280.5h3M838 280.5h3M409 281.5h1M460 281.5h1M464 281.5h1M466 281.5h1M470 281.5h3M498 281.5h1M509 281.5h3M513 281.5h3M518 281.5h3M522 281.5h1M526 281.5h1M528 281.5h3M534 281.5h4M541 281.5h3M548 281.5h1M550 281.5h4M560 281.5h2M565 281.5h1M573 281.5h10M584 281.5h57M645 281.5h1M649 281.5h1M683 281.5h1M713 281.5h3M746 281.5h5M757 281.5h4M769 281.5h1M785 281.5h1M801 281.5h1M813 281.5h3M823 281.5h3M831 281.5h2M839 281.5h1M408 282.5h3M415 282.5h1M442 282.5h1M453 282.5h1M459 282.5h3M465 282.5h3M471 282.5h1M494 282.5h1M497 282.5h3M503 282.5h1M510 282.5h1M514 282.5h1M519 282.5h1M525 282.5h3M529 282.5h1M535 282.5h1M541 282.5h2M546 282.5h4M551 282.5h5M558 282.5h1M561 282.5h1M564 282.5h3M573 282.5h2M576 282.5h50M627 282.5h2M630 282.5h1M633 282.5h1M635 282.5h1M639 282.5h1M682 282.5h3M714 282.5h1M747 282.5h1M749 282.5h1M756 282.5h6M783 282.5h4M800 282.5h3M814 282.5h1M824 282.5h1M831 282.5h3M403 283.5h1M409 283.5h1M414 283.5h3M441 283.5h3M452 283.5h3M460 283.5h1M466 283.5h1M471 283.5h1M493 283.5h3M497 283.5h3M502 283.5h3M510 283.5h1M526 283.5h1M536 283.5h1M540 283.5h3M545 283.5h4M552 283.5h14M568 283.5h1M571 283.5h53M683 283.5h1M718 283.5h1M749 283.5h1M757 283.5h1M760 283.5h1M781 283.5h5M801 283.5h1M828 283.5h1M831 283.5h3M839 283.5h1M402 284.5h3M415 284.5h1M442 284.5h1M453 284.5h1M470 284.5h3M487 284.5h1M494 284.5h1M498 284.5h1M502 284.5h2M505 284.5h1M509 284.5h3M519 284.5h1M522 284.5h2M530 284.5h1M534 284.5h4M541 284.5h1M545 284.5h5M551 284.5h5M558 284.5h7M567 284.5h41M611 284.5h5M617 284.5h1M669 284.5h1M673 284.5h1M717 284.5h3M745 284.5h1M748 284.5h3M757 284.5h1M761 284.5h1M764 284.5h1M780 284.5h4M803 284.5h1M814 284.5h1M820 284.5h1M827 284.5h8M838 284.5h3M403 285.5h1M471 285.5h1M474 285.5h1M486 285.5h3M501 285.5h6M510 285.5h1M518 285.5h7M529 285.5h3M533 285.5h4M546 285.5h5M552 285.5h1M557 285.5h8M566 285.5h40M613 285.5h1M668 285.5h3M672 285.5h3M702 285.5h1M717 285.5h3M744 285.5h3M749 285.5h3M756 285.5h3M760 285.5h6M781 285.5h1M785 285.5h1M796 285.5h1M802 285.5h4M813 285.5h3M819 285.5h3M828 285.5h1M831 285.5h1M833 285.5h3M839 285.5h1M415 286.5h1M419 286.5h1M473 286.5h3M485 286.5h3M498 286.5h1M501 286.5h3M505 286.5h1M517 286.5h1M519 286.5h1M522 286.5h4M530 286.5h1M533 286.5h4M546 286.5h6M556 286.5h47M652 286.5h1M669 286.5h1M673 286.5h1M701 286.5h3M718 286.5h1M745 286.5h1M750 286.5h3M755 286.5h1M757 286.5h1M761 286.5h1M764 286.5h1M784 286.5h3M795 286.5h3M803 286.5h4M814 286.5h1M818 286.5h3M828 286.5h1M834 286.5h1M840 286.5h1M414 287.5h3M418 287.5h3M442 287.5h1M474 287.5h1M486 287.5h3M497 287.5h6M516 287.5h3M524 287.5h1M529 287.5h1M532 287.5h6M541 287.5h1M544 287.5h1M547 287.5h6M555 287.5h38M594 287.5h5M651 287.5h3M702 287.5h1M714 287.5h1M749 287.5h3M753 287.5h4M758 287.5h1M785 287.5h1M796 287.5h1M799 287.5h1M805 287.5h1M819 287.5h1M827 287.5h3M836 287.5h1M839 287.5h4M326 288.5h1M368 288.5h1M395 288.5h1M415 288.5h1M419 288.5h1M441 288.5h3M486 288.5h4M498 288.5h1M501 288.5h1M510 288.5h1M517 288.5h1M523 288.5h3M528 288.5h3M533 288.5h1M535 288.5h4M540 288.5h6M549 288.5h3M554 288.5h37M594 288.5h4M652 288.5h1M713 288.5h3M750 288.5h1M752 288.5h4M757 288.5h3M790 288.5h1M798 288.5h3M804 288.5h4M826 288.5h1M828 288.5h1M835 288.5h3M840 288.5h4M325 289.5h3M367 289.5h3M394 289.5h3M442 289.5h1M487 289.5h2M509 289.5h3M524 289.5h1M527 289.5h3M533 289.5h1M536 289.5h4M541 289.5h5M548 289.5h5M554 289.5h38M595 289.5h1M712 289.5h1M714 289.5h1M749 289.5h1M753 289.5h2M758 289.5h1M789 289.5h3M795 289.5h1M799 289.5h1M805 289.5h4M811 289.5h1M816 289.5h1M822 289.5h6M836 289.5h1M839 289.5h1M842 289.5h1M326 290.5h1M368 290.5h1M394 290.5h2M441 290.5h1M502 290.5h1M510 290.5h1M516 290.5h1M522 290.5h1M528 290.5h1M532 290.5h55M588 290.5h3M676 290.5h1M711 290.5h3M748 290.5h3M753 290.5h3M757 290.5h3M790 290.5h1M794 290.5h3M807 290.5h1M810 290.5h3M815 290.5h3M821 290.5h6M838 290.5h3M393 291.5h3M438 291.5h1M440 291.5h3M501 291.5h3M513 291.5h7M521 291.5h3M531 291.5h4M536 291.5h47M585 291.5h1M675 291.5h3M679 291.5h1M712 291.5h1M749 291.5h1M754 291.5h1M758 291.5h1M783 291.5h1M795 291.5h1M811 291.5h1M816 291.5h1M821 291.5h4M839 291.5h3M394 292.5h1M437 292.5h3M441 292.5h1M466 292.5h2M491 292.5h1M499 292.5h1M502 292.5h1M512 292.5h9M522 292.5h1M525 292.5h1M529 292.5h7M537 292.5h44M582 292.5h2M666 292.5h1M676 292.5h1M678 292.5h4M694 292.5h1M711 292.5h3M752 292.5h1M758 292.5h1M782 292.5h4M790 292.5h1M800 292.5h1M820 292.5h5M838 292.5h4M391 293.5h1M438 293.5h1M465 293.5h4M490 293.5h3M498 293.5h3M511 293.5h4M516 293.5h5M524 293.5h3M528 293.5h5M534 293.5h41M577 293.5h2M581 293.5h4M665 293.5h3M679 293.5h4M693 293.5h3M712 293.5h1M751 293.5h3M757 293.5h3M783 293.5h4M789 293.5h3M799 293.5h3M821 293.5h1M823 293.5h1M825 293.5h1M839 293.5h4M376 294.5h1M390 294.5h3M466 294.5h2M475 294.5h1M482 294.5h1M491 294.5h1M499 294.5h1M502 294.5h1M505 294.5h1M511 294.5h4M517 294.5h6M524 294.5h45M571 294.5h1M573 294.5h1M582 294.5h2M666 294.5h1M681 294.5h1M694 294.5h1M711 294.5h3M747 294.5h1M752 294.5h1M755 294.5h1M758 294.5h2M783 294.5h3M790 294.5h1M794 294.5h1M800 294.5h1M820 294.5h3M824 294.5h3M841 294.5h1M375 295.5h3M391 295.5h1M474 295.5h3M481 295.5h3M501 295.5h6M510 295.5h6M519 295.5h51M712 295.5h1M729 295.5h1M746 295.5h3M752 295.5h1M754 295.5h3M758 295.5h3M779 295.5h1M784 295.5h1M793 295.5h3M821 295.5h1M825 295.5h1M376 296.5h1M475 296.5h1M482 296.5h1M502 296.5h1M504 296.5h4M509 296.5h50M560 296.5h1M565 296.5h2M568 296.5h1M728 296.5h3M746 296.5h3M751 296.5h3M755 296.5h1M759 296.5h1M768 296.5h1M778 296.5h3M794 296.5h1M802 296.5h1M401 297.5h1M458 297.5h1M499 297.5h1M503 297.5h11M515 297.5h43M708 297.5h1M729 297.5h1M747 297.5h1M752 297.5h1M767 297.5h3M779 297.5h1M801 297.5h3M842 297.5h1M399 298.5h4M448 298.5h1M457 298.5h3M468 298.5h1M477 298.5h1M498 298.5h4M503 298.5h2M506 298.5h4M511 298.5h4M516 298.5h39M556 298.5h1M707 298.5h3M711 298.5h1M749 298.5h1M768 298.5h1M802 298.5h1M815 298.5h1M828 298.5h1M832 298.5h1M837 298.5h1M840 298.5h4M398 299.5h4M447 299.5h3M458 299.5h1M467 299.5h3M476 299.5h3M482 299.5h1M495 299.5h1M499 299.5h7M508 299.5h1M510 299.5h39M551 299.5h2M708 299.5h1M710 299.5h3M736 299.5h1M748 299.5h3M790 299.5h1M814 299.5h3M823 299.5h1M827 299.5h3M831 299.5h3M836 299.5h7M399 300.5h1M448 300.5h1M468 300.5h1M470 300.5h1M477 300.5h1M481 300.5h3M494 300.5h11M507 300.5h41M709 300.5h4M735 300.5h3M749 300.5h1M777 300.5h1M789 300.5h3M815 300.5h1M822 300.5h3M828 300.5h1M832 300.5h1M836 300.5h2M840 300.5h2M469 301.5h3M476 301.5h1M482 301.5h2M491 301.5h1M494 301.5h10M505 301.5h40M666 301.5h1M678 301.5h1M708 301.5h4M736 301.5h1M776 301.5h3M790 301.5h1M811 301.5h1M815 301.5h1M823 301.5h1M835 301.5h3M839 301.5h1M361 302.5h1M408 302.5h1M470 302.5h1M473 302.5h1M475 302.5h3M481 302.5h4M489 302.5h7M497 302.5h43M542 302.5h1M665 302.5h3M677 302.5h3M709 302.5h1M767 302.5h1M777 302.5h1M796 302.5h1M801 302.5h1M810 302.5h3M814 302.5h3M831 302.5h1M836 302.5h5M360 303.5h3M407 303.5h3M430 303.5h1M472 303.5h3M476 303.5h2M482 303.5h2M488 303.5h4M494 303.5h1M499 303.5h33M533 303.5h4M538 303.5h1M666 303.5h1M678 303.5h1M708 303.5h3M750 303.5h1M766 303.5h3M792 303.5h1M795 303.5h3M800 303.5h3M811 303.5h1M815 303.5h1M829 303.5h5M836 303.5h5M842 303.5h2M361 304.5h1M408 304.5h1M429 304.5h3M473 304.5h1M476 304.5h3M488 304.5h3M494 304.5h1M496 304.5h1M498 304.5h35M534 304.5h1M709 304.5h2M748 304.5h4M754 304.5h1M767 304.5h1M779 304.5h1M791 304.5h3M796 304.5h1M801 304.5h1M820 304.5h1M828 304.5h7M836 304.5h9M430 305.5h1M477 305.5h3M486 305.5h1M489 305.5h2M493 305.5h41M665 305.5h1M709 305.5h3M747 305.5h4M753 305.5h3M778 305.5h3M792 305.5h1M818 305.5h4M827 305.5h1M829 305.5h1M833 305.5h11M472 306.5h1M475 306.5h1M478 306.5h1M483 306.5h1M485 306.5h3M489 306.5h3M493 306.5h35M529 306.5h4M664 306.5h3M710 306.5h1M731 306.5h1M748 306.5h2M754 306.5h1M762 306.5h1M779 306.5h1M808 306.5h1M817 306.5h5M826 306.5h3M833 306.5h4M838 306.5h4M447 307.5h1M471 307.5h6M482 307.5h5M488 307.5h44M665 307.5h1M698 307.5h1M730 307.5h3M747 307.5h1M761 307.5h3M803 307.5h1M807 307.5h3M818 307.5h1M820 307.5h1M826 307.5h3M832 307.5h9M433 308.5h1M446 308.5h3M454 308.5h1M472 308.5h1M475 308.5h1M479 308.5h1M481 308.5h1M483 308.5h42M526 308.5h2M530 308.5h1M697 308.5h3M731 308.5h1M746 308.5h3M762 308.5h1M791 308.5h1M802 308.5h4M808 308.5h1M817 308.5h3M827 308.5h1M830 308.5h2M833 308.5h1M836 308.5h1M838 308.5h1M840 308.5h2M432 309.5h3M446 309.5h2M453 309.5h3M465 309.5h1M467 309.5h1M478 309.5h6M485 309.5h39M526 309.5h3M607 309.5h1M673 309.5h1M698 309.5h1M739 309.5h1M747 309.5h1M790 309.5h3M803 309.5h4M818 309.5h1M820 309.5h1M829 309.5h9M839 309.5h4M433 310.5h1M445 310.5h3M454 310.5h1M457 310.5h1M464 310.5h5M471 310.5h1M474 310.5h1M479 310.5h6M486 310.5h25M512 310.5h8M521 310.5h4M527 310.5h1M606 310.5h3M672 310.5h3M738 310.5h3M746 310.5h3M764 310.5h1M791 310.5h1M805 310.5h1M817 310.5h1M819 310.5h3M830 310.5h8M840 310.5h2M446 311.5h1M456 311.5h4M465 311.5h1M467 311.5h1M470 311.5h6M478 311.5h4M483 311.5h36M523 311.5h1M607 311.5h1M673 311.5h1M690 311.5h1M722 311.5h1M739 311.5h1M746 311.5h3M754 311.5h1M763 311.5h3M781 311.5h1M788 311.5h1M802 311.5h1M816 311.5h3M820 311.5h1M822 311.5h1M831 311.5h9M343 312.5h1M384 312.5h1M436 312.5h1M457 312.5h4M464 312.5h1M471 312.5h5M477 312.5h41M521 312.5h1M689 312.5h3M721 312.5h3M747 312.5h1M753 312.5h3M757 312.5h1M764 312.5h1M766 312.5h1M780 312.5h3M787 312.5h3M801 312.5h3M817 312.5h1M821 312.5h3M830 312.5h3M834 312.5h1M837 312.5h4M326 313.5h1M342 313.5h3M366 313.5h1M383 313.5h3M435 313.5h3M459 313.5h1M463 313.5h3M470 313.5h5M476 313.5h41M520 313.5h3M690 313.5h1M695 313.5h1M703 313.5h1M722 313.5h1M739 313.5h1M754 313.5h1M756 313.5h3M765 313.5h3M781 313.5h1M788 313.5h3M802 313.5h1M821 313.5h2M827 313.5h1M829 313.5h4M839 313.5h1M325 314.5h3M343 314.5h1M365 314.5h3M384 314.5h1M436 314.5h1M459 314.5h1M464 314.5h1M467 314.5h1M471 314.5h4M476 314.5h2M479 314.5h33M513 314.5h1M515 314.5h1M521 314.5h1M674 314.5h1M689 314.5h3M694 314.5h3M702 314.5h3M738 314.5h3M745 314.5h1M748 314.5h1M757 314.5h1M766 314.5h1M789 314.5h1M815 314.5h1M820 314.5h3M826 314.5h3M830 314.5h4M326 315.5h1M366 315.5h3M458 315.5h3M466 315.5h3M471 315.5h8M480 315.5h30M665 315.5h1M673 315.5h3M690 315.5h1M695 315.5h1M703 315.5h1M716 315.5h1M724 315.5h1M733 315.5h1M739 315.5h1M744 315.5h6M756 315.5h3M810 315.5h1M812 315.5h1M814 315.5h3M821 315.5h1M824 315.5h1M826 315.5h3M830 315.5h1M832 315.5h3M839 315.5h1M367 316.5h1M451 316.5h1M458 316.5h3M462 316.5h1M467 316.5h2M470 316.5h39M664 316.5h4M674 316.5h1M709 316.5h1M715 316.5h3M723 316.5h3M732 316.5h3M745 316.5h1M748 316.5h1M757 316.5h1M809 316.5h5M815 316.5h2M821 316.5h1M823 316.5h9M833 316.5h1M838 316.5h3M842 316.5h1M450 317.5h3M457 317.5h3M461 317.5h3M467 317.5h40M665 317.5h4M692 317.5h1M708 317.5h3M712 317.5h1M716 317.5h1M724 317.5h1M733 317.5h1M740 317.5h1M764 317.5h1M781 317.5h1M810 317.5h3M815 317.5h3M820 317.5h5M826 317.5h3M830 317.5h1M839 317.5h5M451 318.5h2M456 318.5h1M458 318.5h1M461 318.5h3M466 318.5h1M468 318.5h1M470 318.5h30M502 318.5h1M505 318.5h3M666 318.5h2M691 318.5h3M709 318.5h1M711 318.5h3M739 318.5h3M763 318.5h3M771 318.5h1M780 318.5h3M788 318.5h1M811 318.5h1M816 318.5h1M821 318.5h1M823 318.5h1M827 318.5h1M839 318.5h4M426 319.5h1M440 319.5h1M451 319.5h3M455 319.5h3M462 319.5h2M465 319.5h3M469 319.5h1M471 319.5h28M501 319.5h3M506 319.5h1M665 319.5h3M685 319.5h1M692 319.5h1M712 319.5h1M740 319.5h1M764 319.5h1M770 319.5h3M781 319.5h1M787 319.5h3M812 319.5h1M822 319.5h2M825 319.5h1M838 319.5h4M425 320.5h3M439 320.5h3M448 320.5h1M452 320.5h1M454 320.5h1M456 320.5h1M460 320.5h1M462 320.5h5M468 320.5h32M502 320.5h1M666 320.5h1M684 320.5h3M758 320.5h1M771 320.5h1M788 320.5h1M811 320.5h3M818 320.5h1M820 320.5h7M839 320.5h1M841 320.5h2M426 321.5h1M440 321.5h1M447 321.5h4M453 321.5h3M457 321.5h1M459 321.5h3M463 321.5h4M468 321.5h31M685 321.5h1M757 321.5h3M812 321.5h1M817 321.5h7M825 321.5h2M838 321.5h6M448 322.5h4M454 322.5h5M460 322.5h3M465 322.5h34M723 322.5h1M758 322.5h1M763 322.5h1M815 322.5h1M817 322.5h6M824 322.5h4M838 322.5h5M435 323.5h1M449 323.5h3M453 323.5h43M497 323.5h1M635 323.5h1M712 323.5h1M722 323.5h3M762 323.5h3M766 323.5h1M814 323.5h13M837 323.5h1M839 323.5h1M841 323.5h1M434 324.5h3M449 324.5h2M453 324.5h39M494 324.5h1M634 324.5h3M711 324.5h3M723 324.5h1M763 324.5h1M765 324.5h3M770 324.5h1M798 324.5h1M815 324.5h8M824 324.5h1M836 324.5h6M399 325.5h1M416 325.5h1M432 325.5h1M435 325.5h1M442 325.5h1M444 325.5h3M448 325.5h3M452 325.5h41M635 325.5h1M712 325.5h1M766 325.5h2M769 325.5h3M797 325.5h3M804 325.5h1M811 325.5h1M814 325.5h10M837 325.5h6M398 326.5h3M415 326.5h3M431 326.5h3M441 326.5h7M449 326.5h1M453 326.5h1M455 326.5h34M491 326.5h1M661 326.5h1M753 326.5h1M766 326.5h3M770 326.5h1M787 326.5h1M798 326.5h1M803 326.5h3M810 326.5h3M815 326.5h4M821 326.5h3M830 326.5h1M839 326.5h4M399 327.5h1M416 327.5h1M432 327.5h1M439 327.5h1M442 327.5h1M444 327.5h4M454 327.5h36M660 327.5h3M669 327.5h1M752 327.5h3M767 327.5h1M786 327.5h3M804 327.5h1M811 327.5h1M814 327.5h5M822 327.5h1M829 327.5h4M835 327.5h1M838 327.5h4M435 328.5h1M438 328.5h3M442 328.5h1M446 328.5h2M452 328.5h35M488 328.5h1M559 328.5h1M661 328.5h1M668 328.5h3M753 328.5h1M761 328.5h1M766 328.5h1M787 328.5h1M803 328.5h1M813 328.5h7M830 328.5h7M839 328.5h3M425 329.5h1M429 329.5h1M434 329.5h10M446 329.5h3M451 329.5h35M558 329.5h3M669 329.5h1M757 329.5h1M760 329.5h3M765 329.5h3M794 329.5h1M802 329.5h3M812 329.5h5M818 329.5h1M832 329.5h1M835 329.5h1M839 329.5h4M424 330.5h3M428 330.5h3M435 330.5h1M438 330.5h2M442 330.5h2M447 330.5h1M450 330.5h29M481 330.5h2M484 330.5h1M559 330.5h1M735 330.5h1M756 330.5h3M761 330.5h1M766 330.5h1M793 330.5h3M803 330.5h1M812 330.5h5M840 330.5h3M425 331.5h1M429 331.5h1M439 331.5h2M442 331.5h5M449 331.5h31M665 331.5h1M698 331.5h1M734 331.5h3M757 331.5h1M785 331.5h1M794 331.5h1M799 331.5h1M810 331.5h1M812 331.5h5M820 331.5h1M825 331.5h1M841 331.5h1M391 332.5h1M409 332.5h1M428 332.5h4M438 332.5h4M443 332.5h38M664 332.5h3M697 332.5h3M735 332.5h1M756 332.5h3M772 332.5h1M784 332.5h3M798 332.5h3M809 332.5h5M815 332.5h1M819 332.5h4M824 332.5h3M840 332.5h3M390 333.5h3M408 333.5h3M424 333.5h1M429 333.5h4M439 333.5h2M445 333.5h35M665 333.5h1M669 333.5h1M673 333.5h2M698 333.5h1M757 333.5h1M771 333.5h3M785 333.5h1M799 333.5h1M808 333.5h5M820 333.5h4M825 333.5h1M839 333.5h3M391 334.5h1M409 334.5h1M423 334.5h3M427 334.5h5M440 334.5h3M444 334.5h34M668 334.5h3M672 334.5h4M772 334.5h1M808 334.5h4M822 334.5h1M840 334.5h1M424 335.5h1M426 335.5h5M439 335.5h38M669 335.5h6M756 335.5h1M783 335.5h1M799 335.5h1M804 335.5h1M806 335.5h5M816 335.5h1M818 335.5h1M425 336.5h1M427 336.5h2M434 336.5h1M437 336.5h1M440 336.5h32M473 336.5h3M668 336.5h3M672 336.5h1M755 336.5h3M782 336.5h3M788 336.5h1M798 336.5h3M803 336.5h6M815 336.5h5M841 336.5h1M421 337.5h1M424 337.5h3M429 337.5h1M433 337.5h7M441 337.5h34M667 337.5h4M736 337.5h1M742 337.5h1M756 337.5h1M783 337.5h3M787 337.5h3M799 337.5h1M804 337.5h1M806 337.5h4M816 337.5h1M818 337.5h1M837 337.5h2M840 337.5h3M420 338.5h3M425 338.5h1M428 338.5h3M434 338.5h41M668 338.5h2M674 338.5h1M735 338.5h3M741 338.5h3M750 338.5h1M784 338.5h1M788 338.5h1M808 338.5h1M817 338.5h3M836 338.5h4M841 338.5h1M421 339.5h1M427 339.5h1M429 339.5h1M436 339.5h2M439 339.5h1M441 339.5h30M472 339.5h2M673 339.5h3M681 339.5h1M727 339.5h1M736 339.5h1M742 339.5h1M749 339.5h3M800 339.5h1M802 339.5h1M808 339.5h1M818 339.5h1M837 339.5h2M840 339.5h3M420 340.5h3M426 340.5h3M436 340.5h1M440 340.5h30M674 340.5h1M680 340.5h3M726 340.5h3M750 340.5h1M781 340.5h1M799 340.5h5M807 340.5h3M817 340.5h1M825 340.5h1M839 340.5h3M421 341.5h1M427 341.5h1M435 341.5h3M440 341.5h31M681 341.5h1M727 341.5h1M780 341.5h3M799 341.5h2M802 341.5h1M808 341.5h3M814 341.5h1M816 341.5h3M821 341.5h1M824 341.5h3M838 341.5h3M423 342.5h1M431 342.5h1M434 342.5h36M751 342.5h1M781 342.5h1M798 342.5h3M809 342.5h1M813 342.5h3M817 342.5h1M820 342.5h3M825 342.5h1M833 342.5h1M839 342.5h3M381 343.5h1M422 343.5h3M430 343.5h3M434 343.5h34M750 343.5h3M767 343.5h1M793 343.5h2M799 343.5h1M804 343.5h1M806 343.5h1M814 343.5h2M821 343.5h1M824 343.5h1M830 343.5h1M832 343.5h3M840 343.5h1M380 344.5h3M420 344.5h1M422 344.5h3M426 344.5h2M429 344.5h36M751 344.5h1M766 344.5h3M792 344.5h4M803 344.5h5M814 344.5h3M818 344.5h1M822 344.5h4M829 344.5h3M833 344.5h2M381 345.5h1M419 345.5h10M430 345.5h34M760 345.5h1M767 345.5h1M793 345.5h4M804 345.5h1M806 345.5h2M815 345.5h5M821 345.5h4M827 345.5h1M830 345.5h1M832 345.5h4M840 345.5h1M420 346.5h5M426 346.5h37M747 346.5h1M755 346.5h1M759 346.5h3M795 346.5h1M806 346.5h3M810 346.5h1M816 346.5h1M818 346.5h1M822 346.5h1M826 346.5h3M831 346.5h4M837 346.5h1M839 346.5h3M422 347.5h1M428 347.5h1M431 347.5h31M746 347.5h3M754 347.5h3M760 347.5h1M778 347.5h1M791 347.5h1M795 347.5h1M807 347.5h1M809 347.5h3M825 347.5h3M832 347.5h1M836 347.5h3M840 347.5h3M419 348.5h1M423 348.5h1M431 348.5h28M460 348.5h3M675 348.5h1M747 348.5h1M755 348.5h1M763 348.5h1M765 348.5h1M777 348.5h3M790 348.5h3M794 348.5h3M810 348.5h1M826 348.5h1M837 348.5h3M841 348.5h1M402 349.5h1M417 349.5h8M428 349.5h1M431 349.5h29M461 349.5h1M674 349.5h3M720 349.5h1M762 349.5h5M778 349.5h1M791 349.5h5M797 349.5h1M838 349.5h1M840 349.5h1M330 350.5h1M401 350.5h3M416 350.5h10M427 350.5h34M675 350.5h1M719 350.5h3M754 350.5h1M758 350.5h1M763 350.5h1M765 350.5h1M768 350.5h1M776 350.5h1M790 350.5h1M792 350.5h7M805 350.5h1M813 350.5h1M837 350.5h5M329 351.5h3M402 351.5h1M408 351.5h1M414 351.5h1M417 351.5h1M421 351.5h39M714 351.5h1M717 351.5h1M720 351.5h1M753 351.5h3M757 351.5h3M767 351.5h3M775 351.5h3M789 351.5h3M794 351.5h1M797 351.5h1M804 351.5h3M812 351.5h3M833 351.5h1M838 351.5h3M330 352.5h1M407 352.5h3M413 352.5h3M417 352.5h1M422 352.5h1M425 352.5h32M713 352.5h6M751 352.5h1M754 352.5h1M758 352.5h1M762 352.5h1M766 352.5h1M768 352.5h1M776 352.5h1M789 352.5h3M805 352.5h1M813 352.5h1M824 352.5h1M832 352.5h4M838 352.5h4M408 353.5h1M414 353.5h1M416 353.5h3M423 353.5h6M430 353.5h3M434 353.5h24M714 353.5h1M717 353.5h1M750 353.5h3M761 353.5h3M765 353.5h3M783 353.5h1M790 353.5h1M820 353.5h1M823 353.5h4M831 353.5h1M833 353.5h4M839 353.5h4M394 354.5h1M407 354.5h1M415 354.5h3M419 354.5h1M421 354.5h22M444 354.5h7M452 354.5h3M456 354.5h1M743 354.5h1M751 354.5h1M761 354.5h2M766 354.5h1M775 354.5h1M782 354.5h4M819 354.5h3M824 354.5h4M830 354.5h3M835 354.5h1M839 354.5h4M393 355.5h3M406 355.5h3M414 355.5h10M425 355.5h24M460 355.5h1M742 355.5h3M760 355.5h3M774 355.5h3M783 355.5h4M820 355.5h1M826 355.5h3M831 355.5h1M839 355.5h5M394 356.5h1M407 356.5h1M413 356.5h4M419 356.5h30M459 356.5h3M551 356.5h1M743 356.5h1M753 356.5h1M761 356.5h1M775 356.5h1M779 356.5h1M785 356.5h1M818 356.5h1M826 356.5h2M838 356.5h3M842 356.5h1M400 357.5h1M414 357.5h1M419 357.5h31M451 357.5h1M460 357.5h1M550 357.5h3M710 357.5h1M751 357.5h4M778 357.5h3M785 357.5h2M802 357.5h1M817 357.5h3M825 357.5h3M838 357.5h2M841 357.5h3M399 358.5h3M413 358.5h1M418 358.5h3M423 358.5h30M551 358.5h1M709 358.5h3M737 358.5h1M750 358.5h4M777 358.5h4M784 358.5h4M794 358.5h1M801 358.5h3M818 358.5h1M823 358.5h5M837 358.5h4M842 358.5h1M400 359.5h1M412 359.5h4M419 359.5h30M451 359.5h1M687 359.5h1M706 359.5h1M710 359.5h1M736 359.5h3M751 359.5h1M776 359.5h6M785 359.5h2M793 359.5h3M802 359.5h1M822 359.5h5M828 359.5h1M838 359.5h4M401 360.5h1M411 360.5h1M413 360.5h4M418 360.5h28M447 360.5h1M660 360.5h1M686 360.5h3M705 360.5h3M737 360.5h1M768 360.5h1M774 360.5h5M780 360.5h1M794 360.5h1M801 360.5h1M806 360.5h1M809 360.5h2M820 360.5h1M823 360.5h1M827 360.5h3M840 360.5h1M400 361.5h3M406 361.5h1M410 361.5h3M414 361.5h3M419 361.5h26M659 361.5h3M687 361.5h1M706 361.5h1M767 361.5h3M773 361.5h9M786 361.5h1M800 361.5h3M805 361.5h7M819 361.5h6M826 361.5h3M840 361.5h1M401 362.5h1M405 362.5h3M410 362.5h35M660 362.5h1M709 362.5h1M717 362.5h1M758 362.5h1M768 362.5h1M772 362.5h7M780 362.5h1M785 362.5h3M801 362.5h1M806 362.5h1M809 362.5h2M820 362.5h1M823 362.5h2M827 362.5h1M839 362.5h3M406 363.5h1M411 363.5h1M414 363.5h3M418 363.5h28M447 363.5h1M658 363.5h1M663 363.5h1M708 363.5h3M716 363.5h3M750 363.5h1M757 363.5h3M770 363.5h8M786 363.5h1M801 363.5h1M805 363.5h6M823 363.5h3M833 363.5h2M840 363.5h1M408 364.5h2M411 364.5h1M413 364.5h32M446 364.5h3M657 364.5h3M662 364.5h3M672 364.5h1M709 364.5h1M717 364.5h3M749 364.5h3M758 364.5h1M769 364.5h5M775 364.5h2M800 364.5h3M805 364.5h3M809 364.5h1M817 364.5h1M824 364.5h1M832 364.5h4M839 364.5h4M401 365.5h1M404 365.5h1M407 365.5h10M418 365.5h4M423 365.5h6M430 365.5h11M442 365.5h1M447 365.5h1M658 365.5h1M663 365.5h1M671 365.5h3M678 365.5h1M718 365.5h1M740 365.5h1M748 365.5h3M770 365.5h1M772 365.5h5M801 365.5h1M806 365.5h1M810 365.5h1M816 365.5h3M828 365.5h1M832 365.5h3M839 365.5h5M400 366.5h6M407 366.5h3M411 366.5h1M414 366.5h3M418 366.5h19M439 366.5h1M444 366.5h1M663 366.5h1M672 366.5h1M677 366.5h3M739 366.5h3M749 366.5h1M769 366.5h1M772 366.5h4M809 366.5h3M817 366.5h1M827 366.5h3M831 366.5h3M840 366.5h1M842 366.5h1M386 367.5h1M397 367.5h1M401 367.5h1M404 367.5h1M408 367.5h1M411 367.5h1M413 367.5h16M430 367.5h6M441 367.5h1M443 367.5h3M643 367.5h1M662 367.5h3M678 367.5h1M740 367.5h1M767 367.5h4M772 367.5h3M778 367.5h1M810 367.5h1M828 367.5h1M831 367.5h3M385 368.5h3M396 368.5h3M410 368.5h16M427 368.5h3M432 368.5h3M440 368.5h3M444 368.5h1M642 368.5h3M663 368.5h1M766 368.5h4M771 368.5h3M777 368.5h3M809 368.5h1M811 368.5h1M832 368.5h1M837 368.5h1M386 369.5h1M397 369.5h1M400 369.5h1M403 369.5h1M410 369.5h8M419 369.5h1M421 369.5h2M424 369.5h1M427 369.5h4M433 369.5h1M440 369.5h3M643 369.5h1M742 369.5h1M766 369.5h4M772 369.5h2M778 369.5h1M801 369.5h1M807 369.5h6M822 369.5h1M835 369.5h4M840 369.5h1M393 370.5h1M399 370.5h6M411 370.5h10M422 370.5h1M424 370.5h6M432 370.5h3M441 370.5h1M741 370.5h3M765 370.5h6M772 370.5h3M800 370.5h3M806 370.5h4M811 370.5h3M821 370.5h3M834 370.5h4M839 370.5h3M392 371.5h3M400 371.5h1M402 371.5h2M409 371.5h1M412 371.5h19M433 371.5h1M646 371.5h1M679 371.5h1M692 371.5h1M742 371.5h1M760 371.5h4M766 371.5h4M773 371.5h1M789 371.5h2M801 371.5h1M807 371.5h1M812 371.5h1M820 371.5h3M835 371.5h1M840 371.5h2M393 372.5h1M401 372.5h4M408 372.5h22M645 372.5h3M678 372.5h3M691 372.5h3M716 372.5h1M746 372.5h1M750 372.5h1M759 372.5h6M767 372.5h4M788 372.5h4M809 372.5h1M821 372.5h1M827 372.5h1M840 372.5h3M402 373.5h2M406 373.5h1M409 373.5h5M415 373.5h15M434 373.5h1M646 373.5h1M679 373.5h1M692 373.5h1M715 373.5h3M745 373.5h3M749 373.5h3M756 373.5h1M760 373.5h6M767 373.5h5M789 373.5h2M801 373.5h1M803 373.5h1M808 373.5h3M826 373.5h3M837 373.5h1M841 373.5h1M391 374.5h1M393 374.5h1M405 374.5h3M409 374.5h21M433 374.5h3M716 374.5h1M746 374.5h1M750 374.5h1M755 374.5h3M760 374.5h13M789 374.5h1M800 374.5h5M809 374.5h1M827 374.5h1M835 374.5h8M390 375.5h5M398 375.5h1M404 375.5h3M408 375.5h9M418 375.5h3M422 375.5h4M427 375.5h2M433 375.5h2M551 375.5h1M740 375.5h2M756 375.5h1M761 375.5h1M763 375.5h2M767 375.5h5M788 375.5h3M801 375.5h1M803 375.5h1M808 375.5h4M834 375.5h8M391 376.5h5M397 376.5h3M405 376.5h3M409 376.5h20M432 376.5h3M550 376.5h3M676 376.5h1M739 376.5h4M757 376.5h2M767 376.5h3M789 376.5h1M809 376.5h4M825 376.5h1M835 376.5h1M838 376.5h3M371 377.5h1M393 377.5h4M398 377.5h3M404 377.5h20M425 377.5h1M427 377.5h1M433 377.5h1M551 377.5h1M610 377.5h1M675 377.5h3M740 377.5h2M755 377.5h5M768 377.5h1M787 377.5h1M791 377.5h1M811 377.5h4M820 377.5h1M824 377.5h3M839 377.5h3M370 378.5h3M390 378.5h1M395 378.5h1M397 378.5h1M399 378.5h1M403 378.5h9M413 378.5h6M421 378.5h6M609 378.5h3M655 378.5h1M676 378.5h1M701 378.5h1M754 378.5h6M767 378.5h1M773 378.5h1M786 378.5h3M790 378.5h3M810 378.5h1M812 378.5h4M818 378.5h4M825 378.5h1M840 378.5h1M371 379.5h1M389 379.5h3M396 379.5h5M402 379.5h1M404 379.5h15M422 379.5h4M610 379.5h1M654 379.5h3M699 379.5h4M737 379.5h1M746 379.5h1M754 379.5h6M766 379.5h3M772 379.5h3M787 379.5h2M791 379.5h1M809 379.5h3M813 379.5h9M824 379.5h1M833 379.5h1M839 379.5h3M382 380.5h1M390 380.5h2M397 380.5h7M405 380.5h16M423 380.5h1M655 380.5h1M698 380.5h4M736 380.5h3M745 380.5h3M750 380.5h2M753 380.5h3M758 380.5h1M767 380.5h1M773 380.5h1M784 380.5h1M787 380.5h3M810 380.5h1M812 380.5h4M818 380.5h1M820 380.5h6M832 380.5h3M840 380.5h3M381 381.5h3M390 381.5h3M395 381.5h1M399 381.5h5M405 381.5h1M407 381.5h6M415 381.5h7M673 381.5h1M686 381.5h1M699 381.5h1M737 381.5h1M746 381.5h1M749 381.5h8M783 381.5h3M788 381.5h1M809 381.5h3M813 381.5h1M815 381.5h1M817 381.5h1M821 381.5h1M824 381.5h1M833 381.5h2M841 381.5h1M382 382.5h1M391 382.5h1M394 382.5h3M398 382.5h3M402 382.5h19M629 382.5h1M672 382.5h3M679 382.5h1M685 382.5h3M696 382.5h1M723 382.5h1M746 382.5h1M749 382.5h7M784 382.5h1M810 382.5h1M814 382.5h5M821 382.5h1M833 382.5h3M393 383.5h8M402 383.5h15M418 383.5h1M628 383.5h3M673 383.5h1M678 383.5h3M686 383.5h1M695 383.5h3M700 383.5h1M707 383.5h1M722 383.5h3M745 383.5h3M750 383.5h3M773 383.5h1M801 383.5h1M811 383.5h1M815 383.5h1M817 383.5h1M820 383.5h3M826 383.5h1M834 383.5h3M839 383.5h1M379 384.5h1M394 384.5h7M403 384.5h8M412 384.5h1M415 384.5h1M462 384.5h1M629 384.5h1M679 384.5h1M688 384.5h1M696 384.5h1M699 384.5h3M706 384.5h3M723 384.5h1M746 384.5h2M751 384.5h1M772 384.5h3M776 384.5h1M800 384.5h3M810 384.5h3M816 384.5h1M818 384.5h1M820 384.5h8M835 384.5h1M838 384.5h3M378 385.5h3M393 385.5h2M397 385.5h14M443 385.5h1M461 385.5h3M615 385.5h1M687 385.5h3M700 385.5h1M707 385.5h1M713 385.5h1M746 385.5h3M773 385.5h1M775 385.5h4M792 385.5h1M801 385.5h1M810 385.5h2M815 385.5h14M833 385.5h2M838 385.5h4M379 386.5h1M382 386.5h1M392 386.5h5M398 386.5h8M407 386.5h6M442 386.5h3M462 386.5h1M614 386.5h3M625 386.5h1M628 386.5h1M672 386.5h1M688 386.5h1M700 386.5h1M712 386.5h3M740 386.5h1M747 386.5h1M776 386.5h4M791 386.5h3M802 386.5h1M809 386.5h3M816 386.5h1M818 386.5h1M820 386.5h8M832 386.5h4M837 386.5h4M378 387.5h6M385 387.5h1M392 387.5h17M410 387.5h4M418 387.5h1M443 387.5h1M615 387.5h1M624 387.5h6M671 387.5h3M699 387.5h3M713 387.5h1M739 387.5h4M744 387.5h1M746 387.5h3M778 387.5h1M792 387.5h1M795 387.5h1M801 387.5h3M810 387.5h1M817 387.5h1M820 387.5h6M833 387.5h2M836 387.5h1M838 387.5h2M379 388.5h1M382 388.5h1M384 388.5h3M390 388.5h1M393 388.5h1M396 388.5h17M417 388.5h3M625 388.5h1M628 388.5h1M672 388.5h1M693 388.5h1M700 388.5h1M722 388.5h1M740 388.5h6M747 388.5h1M794 388.5h3M802 388.5h1M812 388.5h1M816 388.5h10M835 388.5h3M378 389.5h1M385 389.5h1M389 389.5h3M396 389.5h4M401 389.5h5M407 389.5h2M411 389.5h1M418 389.5h1M662 389.5h1M692 389.5h3M721 389.5h3M739 389.5h7M795 389.5h1M811 389.5h3M816 389.5h5M822 389.5h5M836 389.5h3M840 389.5h1M377 390.5h3M387 390.5h1M390 390.5h1M397 390.5h1M400 390.5h1M402 390.5h5M661 390.5h3M693 390.5h1M722 390.5h1M740 390.5h1M742 390.5h1M744 390.5h3M806 390.5h1M812 390.5h6M819 390.5h1M821 390.5h6M828 390.5h1M836 390.5h6M374 391.5h1M378 391.5h1M386 391.5h3M399 391.5h5M405 391.5h1M409 391.5h2M662 391.5h1M699 391.5h1M736 391.5h2M739 391.5h3M745 391.5h1M783 391.5h1M788 391.5h1M805 391.5h3M813 391.5h4M820 391.5h6M827 391.5h3M837 391.5h1M839 391.5h3M373 392.5h3M386 392.5h2M397 392.5h7M405 392.5h1M408 392.5h4M669 392.5h1M698 392.5h3M735 392.5h6M744 392.5h3M782 392.5h3M787 392.5h3M806 392.5h1M814 392.5h1M819 392.5h4M824 392.5h1M826 392.5h5M839 392.5h3M373 393.5h3M377 393.5h1M381 393.5h1M385 393.5h3M391 393.5h1M394 393.5h1M396 393.5h7M404 393.5h3M409 393.5h2M668 393.5h3M699 393.5h1M734 393.5h4M739 393.5h3M745 393.5h3M783 393.5h1M788 393.5h1M810 393.5h1M820 393.5h2M825 393.5h7M838 393.5h5M374 394.5h1M376 394.5h3M380 394.5h4M386 394.5h2M390 394.5h17M632 394.5h1M669 394.5h1M735 394.5h1M740 394.5h1M746 394.5h1M783 394.5h1M804 394.5h1M809 394.5h3M825 394.5h8M839 394.5h3M897 394.5h1M268 395.5h1M377 395.5h1M379 395.5h1M381 395.5h14M396 395.5h3M402 395.5h4M631 395.5h3M779 395.5h1M782 395.5h3M803 395.5h4M810 395.5h1M826 395.5h6M896 395.5h3M267 396.5h3M371 396.5h1M378 396.5h22M401 396.5h5M632 396.5h1M770 396.5h1M778 396.5h3M783 396.5h1M804 396.5h4M827 396.5h1M829 396.5h4M897 396.5h1M268 397.5h1M370 397.5h3M379 397.5h1M382 397.5h1M384 397.5h2M389 397.5h4M394 397.5h6M402 397.5h1M404 397.5h1M413 397.5h1M769 397.5h3M779 397.5h1M801 397.5h1M805 397.5h2M828 397.5h4M833 397.5h1M841 397.5h1M371 398.5h1M376 398.5h1M383 398.5h4M391 398.5h3M395 398.5h6M412 398.5h3M708 398.5h1M770 398.5h1M787 398.5h1M800 398.5h3M827 398.5h9M840 398.5h3M856 398.5h1M353 399.5h1M375 399.5h3M384 399.5h4M389 399.5h1M392 399.5h1M395 399.5h5M401 399.5h1M413 399.5h1M707 399.5h3M711 399.5h1M750 399.5h1M784 399.5h1M786 399.5h3M801 399.5h1M826 399.5h11M841 399.5h1M855 399.5h3M879 399.5h1M352 400.5h3M376 400.5h1M379 400.5h1M381 400.5h1M385 400.5h6M396 400.5h1M398 400.5h1M400 400.5h3M617 400.5h1M663 400.5h1M706 400.5h3M710 400.5h3M748 400.5h5M783 400.5h3M787 400.5h1M805 400.5h1M825 400.5h1M827 400.5h1M829 400.5h5M835 400.5h4M840 400.5h3M856 400.5h1M878 400.5h3M884 400.5h1M353 401.5h1M370 401.5h1M374 401.5h1M378 401.5h5M387 401.5h1M389 401.5h1M391 401.5h1M401 401.5h1M616 401.5h3M662 401.5h3M705 401.5h3M711 401.5h1M747 401.5h7M780 401.5h1M784 401.5h1M804 401.5h3M824 401.5h3M828 401.5h7M836 401.5h4M841 401.5h1M843 401.5h1M879 401.5h1M883 401.5h3M369 402.5h3M373 402.5h7M381 402.5h2M386 402.5h2M390 402.5h3M395 402.5h1M617 402.5h1M663 402.5h1M704 402.5h3M748 402.5h2M752 402.5h1M766 402.5h1M779 402.5h3M795 402.5h1M805 402.5h1M823 402.5h3M829 402.5h1M831 402.5h14M854 402.5h1M884 402.5h1M894 402.5h1M367 403.5h1M370 403.5h1M374 403.5h5M381 403.5h3M385 403.5h8M394 403.5h3M400 403.5h1M705 403.5h1M719 403.5h1M748 403.5h3M765 403.5h3M780 403.5h1M794 403.5h3M824 403.5h1M828 403.5h1M831 403.5h15M853 403.5h3M893 403.5h3M901 403.5h1M366 404.5h3M373 404.5h6M381 404.5h2M384 404.5h1M386 404.5h7M394 404.5h3M399 404.5h3M651 404.5h1M701 404.5h1M718 404.5h3M749 404.5h1M766 404.5h1M779 404.5h1M795 404.5h1M827 404.5h3M831 404.5h12M844 404.5h1M854 404.5h1M894 404.5h1M900 404.5h3M367 405.5h1M370 405.5h1M374 405.5h1M377 405.5h1M380 405.5h6M389 405.5h1M391 405.5h3M395 405.5h1M400 405.5h1M650 405.5h3M671 405.5h1M678 405.5h1M700 405.5h3M719 405.5h2M772 405.5h1M778 405.5h3M802 405.5h1M828 405.5h1M831 405.5h11M901 405.5h1M369 406.5h3M381 406.5h1M384 406.5h1M388 406.5h3M392 406.5h1M644 406.5h1M649 406.5h1M651 406.5h1M670 406.5h3M677 406.5h3M681 406.5h1M701 406.5h1M719 406.5h3M771 406.5h3M777 406.5h3M789 406.5h1M794 406.5h1M801 406.5h3M831 406.5h12M845 406.5h2M850 406.5h1M369 407.5h3M384 407.5h1M389 407.5h5M643 407.5h3M648 407.5h3M671 407.5h1M678 407.5h1M680 407.5h3M700 407.5h3M710 407.5h1M719 407.5h2M765 407.5h1M772 407.5h1M778 407.5h1M788 407.5h3M793 407.5h3M802 407.5h1M832 407.5h16M849 407.5h3M855 407.5h1M860 407.5h1M865 407.5h1M871 407.5h1M370 408.5h1M383 408.5h3M389 408.5h4M644 408.5h1M649 408.5h1M681 408.5h1M701 408.5h1M709 408.5h3M718 408.5h3M764 408.5h3M785 408.5h1M789 408.5h1M794 408.5h1M806 408.5h1M817 408.5h1M834 408.5h15M850 408.5h1M854 408.5h3M859 408.5h3M864 408.5h3M870 408.5h3M377 409.5h1M379 409.5h1M384 409.5h1M390 409.5h1M710 409.5h1M719 409.5h1M756 409.5h1M765 409.5h1M777 409.5h1M784 409.5h3M798 409.5h1M804 409.5h4M815 409.5h4M827 409.5h1M834 409.5h16M853 409.5h1M855 409.5h1M860 409.5h1M865 409.5h1M871 409.5h1M877 409.5h1M901 409.5h1M367 410.5h1M373 410.5h1M376 410.5h5M389 410.5h3M682 410.5h1M755 410.5h3M773 410.5h1M776 410.5h3M785 410.5h1M797 410.5h3M801 410.5h6M814 410.5h4M822 410.5h1M826 410.5h4M835 410.5h1M837 410.5h1M839 410.5h5M845 410.5h5M851 410.5h4M857 410.5h1M862 410.5h1M871 410.5h1M876 410.5h3M900 410.5h3M218 411.5h1M363 411.5h1M365 411.5h4M371 411.5h4M377 411.5h1M379 411.5h1M383 411.5h1M390 411.5h1M666 411.5h2M681 411.5h3M717 411.5h1M756 411.5h1M772 411.5h3M777 411.5h1M798 411.5h1M800 411.5h5M815 411.5h1M821 411.5h3M827 411.5h4M840 411.5h15M856 411.5h3M861 411.5h3M870 411.5h3M877 411.5h1M895 411.5h1M901 411.5h1M217 412.5h3M362 412.5h6M370 412.5h4M378 412.5h1M382 412.5h3M392 412.5h1M665 412.5h4M682 412.5h1M716 412.5h3M732 412.5h1M773 412.5h1M786 412.5h1M801 412.5h2M819 412.5h1M822 412.5h1M827 412.5h4M837 412.5h1M839 412.5h17M857 412.5h1M861 412.5h2M871 412.5h1M889 412.5h1M894 412.5h3M900 412.5h1M218 413.5h1M359 413.5h1M363 413.5h1M365 413.5h1M371 413.5h1M377 413.5h3M382 413.5h3M391 413.5h3M666 413.5h2M715 413.5h4M731 413.5h3M747 413.5h1M785 413.5h3M807 413.5h1M818 413.5h3M826 413.5h4M836 413.5h3M840 413.5h3M844 413.5h14M860 413.5h3M880 413.5h1M888 413.5h3M895 413.5h1M899 413.5h3M358 414.5h3M373 414.5h1M378 414.5h1M383 414.5h1M392 414.5h1M714 414.5h4M732 414.5h1M746 414.5h3M786 414.5h1M806 414.5h3M817 414.5h3M827 414.5h1M832 414.5h1M837 414.5h1M841 414.5h1M844 414.5h15M861 414.5h3M868 414.5h1M879 414.5h3M884 414.5h1M886 414.5h1M889 414.5h1M897 414.5h1M900 414.5h1M358 415.5h4M371 415.5h4M376 415.5h1M382 415.5h1M646 415.5h1M715 415.5h3M747 415.5h3M804 415.5h1M807 415.5h1M809 415.5h1M813 415.5h1M818 415.5h1M824 415.5h1M830 415.5h4M836 415.5h1M844 415.5h14M859 415.5h1M861 415.5h4M867 415.5h3M876 415.5h1M879 415.5h3M883 415.5h5M896 415.5h3M359 416.5h4M365 416.5h1M367 416.5h2M370 416.5h4M375 416.5h3M381 416.5h3M645 416.5h3M678 416.5h1M704 416.5h1M716 416.5h1M735 416.5h1M748 416.5h1M758 416.5h1M784 416.5h1M803 416.5h3M807 416.5h4M812 416.5h3M823 416.5h3M829 416.5h4M835 416.5h3M843 416.5h23M868 416.5h2M874 416.5h9M884 416.5h1M886 416.5h1M894 416.5h1M897 416.5h1M351 417.5h1M361 417.5h1M364 417.5h6M371 417.5h1M373 417.5h2M376 417.5h1M382 417.5h1M646 417.5h1M677 417.5h3M703 417.5h3M734 417.5h3M743 417.5h1M757 417.5h3M780 417.5h1M783 417.5h3M804 417.5h1M806 417.5h4M813 417.5h1M824 417.5h1M830 417.5h1M834 417.5h3M844 417.5h1M846 417.5h4M851 417.5h4M856 417.5h15M872 417.5h5M879 417.5h1M881 417.5h1M891 417.5h1M893 417.5h3M350 418.5h3M365 418.5h11M390 418.5h1M678 418.5h1M686 418.5h1M704 418.5h1M735 418.5h1M742 418.5h3M747 418.5h1M758 418.5h1M779 418.5h3M784 418.5h1M807 418.5h1M814 418.5h1M819 418.5h1M830 418.5h1M835 418.5h1M847 418.5h1M850 418.5h26M878 418.5h3M890 418.5h3M894 418.5h1M901 418.5h1M351 419.5h1M367 419.5h2M370 419.5h2M373 419.5h3M386 419.5h1M389 419.5h3M649 419.5h1M670 419.5h1M685 419.5h3M730 419.5h1M732 419.5h1M743 419.5h1M746 419.5h3M761 419.5h1M780 419.5h1M803 419.5h1M806 419.5h1M813 419.5h3M818 419.5h3M829 419.5h3M851 419.5h29M885 419.5h1M891 419.5h1M893 419.5h1M900 419.5h3M904 419.5h1M348 420.5h1M350 420.5h3M359 420.5h1M361 420.5h1M369 420.5h3M374 420.5h1M376 420.5h1M385 420.5h3M390 420.5h1M648 420.5h3M669 420.5h3M686 420.5h1M729 420.5h5M747 420.5h1M760 420.5h3M802 420.5h6M814 420.5h1M819 420.5h1M826 420.5h1M830 420.5h1M852 420.5h1M854 420.5h22M877 420.5h3M882 420.5h5M892 420.5h3M901 420.5h1M903 420.5h3M340 421.5h1M347 421.5h3M351 421.5h1M355 421.5h1M357 421.5h7M370 421.5h1M375 421.5h3M386 421.5h1M649 421.5h1M670 421.5h1M702 421.5h1M713 421.5h1M730 421.5h1M732 421.5h1M761 421.5h2M803 421.5h1M806 421.5h1M825 421.5h3M854 421.5h26M881 421.5h6M889 421.5h1M891 421.5h1M893 421.5h3M900 421.5h1M904 421.5h1M339 422.5h3M348 422.5h1M354 422.5h11M367 422.5h2M376 422.5h1M701 422.5h3M712 422.5h3M728 422.5h1M761 422.5h3M824 422.5h1M826 422.5h1M855 422.5h40M899 422.5h3M903 422.5h1M340 423.5h1M355 423.5h1M357 423.5h1M359 423.5h1M363 423.5h1M366 423.5h6M374 423.5h4M677 423.5h1M702 423.5h1M709 423.5h1M713 423.5h1M727 423.5h3M746 423.5h1M762 423.5h1M782 423.5h1M801 423.5h1M823 423.5h3M834 423.5h1M857 423.5h39M897 423.5h8M330 424.5h1M340 424.5h1M353 424.5h1M358 424.5h4M367 424.5h10M676 424.5h3M708 424.5h3M728 424.5h1M730 424.5h1M745 424.5h3M781 424.5h3M800 424.5h3M822 424.5h1M824 424.5h1M833 424.5h3M858 424.5h1M861 424.5h1M863 424.5h42M329 425.5h3M339 425.5h3M351 425.5h4M359 425.5h4M370 425.5h2M374 425.5h1M631 425.5h1M670 425.5h1M677 425.5h1M709 425.5h1M729 425.5h3M746 425.5h1M782 425.5h1M801 425.5h3M818 425.5h1M821 425.5h5M834 425.5h1M864 425.5h1M869 425.5h2M873 425.5h33M330 426.5h1M340 426.5h1M350 426.5h4M359 426.5h1M361 426.5h1M369 426.5h3M630 426.5h3M669 426.5h3M730 426.5h1M779 426.5h1M802 426.5h1M817 426.5h3M822 426.5h4M838 426.5h1M863 426.5h3M869 426.5h1M871 426.5h35M348 427.5h1M351 427.5h4M357 427.5h4M365 427.5h1M370 427.5h1M396 427.5h1M589 427.5h1M631 427.5h1M670 427.5h1M750 427.5h1M778 427.5h3M788 427.5h1M806 427.5h1M818 427.5h1M820 427.5h1M824 427.5h1M837 427.5h3M841 427.5h1M856 427.5h1M864 427.5h1M867 427.5h39M347 428.5h3M353 428.5h1M356 428.5h4M364 428.5h3M395 428.5h3M588 428.5h3M651 428.5h1M683 428.5h1M699 428.5h1M749 428.5h3M766 428.5h1M779 428.5h1M787 428.5h3M803 428.5h1M805 428.5h3M819 428.5h3M838 428.5h1M840 428.5h3M855 428.5h3M861 428.5h1M863 428.5h43M340 429.5h1M346 429.5h1M348 429.5h1M357 429.5h1M365 429.5h1M396 429.5h1M589 429.5h1M650 429.5h3M682 429.5h3M698 429.5h3M750 429.5h1M765 429.5h3M788 429.5h1M790 429.5h1M802 429.5h3M806 429.5h1M820 429.5h1M841 429.5h3M856 429.5h1M860 429.5h5M867 429.5h1M870 429.5h13M884 429.5h22M339 430.5h3M345 430.5h3M361 430.5h1M370 430.5h1M651 430.5h1M662 430.5h2M683 430.5h1M699 430.5h1M720 430.5h1M766 430.5h1M775 430.5h1M782 430.5h1M789 430.5h3M795 430.5h1M803 430.5h1M805 430.5h1M813 430.5h1M817 430.5h1M841 430.5h3M851 430.5h1M855 430.5h3M860 430.5h5M866 430.5h1M868 430.5h38M340 431.5h1M346 431.5h1M360 431.5h4M369 431.5h3M661 431.5h4M671 431.5h1M719 431.5h3M734 431.5h1M774 431.5h3M781 431.5h3M790 431.5h1M794 431.5h3M804 431.5h3M812 431.5h3M816 431.5h3M829 431.5h1M831 431.5h2M834 431.5h1M836 431.5h2M842 431.5h3M848 431.5h7M856 431.5h6M863 431.5h1M865 431.5h41M346 432.5h1M348 432.5h1M361 432.5h4M370 432.5h1M662 432.5h2M670 432.5h3M716 432.5h1M720 432.5h1M733 432.5h3M775 432.5h1M782 432.5h1M794 432.5h3M803 432.5h3M813 432.5h3M817 432.5h1M819 432.5h2M828 432.5h11M841 432.5h1M843 432.5h1M845 432.5h61M345 433.5h5M351 433.5h1M363 433.5h1M365 433.5h1M671 433.5h1M715 433.5h3M729 433.5h1M734 433.5h1M780 433.5h1M795 433.5h1M802 433.5h5M808 433.5h1M813 433.5h9M827 433.5h12M840 433.5h3M844 433.5h61M346 434.5h1M348 434.5h1M350 434.5h3M364 434.5h3M665 434.5h1M716 434.5h1M728 434.5h3M777 434.5h1M779 434.5h3M794 434.5h2M800 434.5h10M811 434.5h1M814 434.5h7M823 434.5h1M826 434.5h7M834 434.5h70M350 435.5h3M357 435.5h1M365 435.5h1M664 435.5h3M677 435.5h1M729 435.5h1M776 435.5h3M780 435.5h1M793 435.5h4M799 435.5h8M808 435.5h1M810 435.5h3M814 435.5h7M822 435.5h10M833 435.5h4M838 435.5h13M852 435.5h19M872 435.5h32M350 436.5h3M356 436.5h3M361 436.5h1M630 436.5h1M665 436.5h1M676 436.5h3M777 436.5h1M791 436.5h1M793 436.5h3M800 436.5h5M809 436.5h3M815 436.5h1M819 436.5h1M821 436.5h7M830 436.5h1M832 436.5h5M839 436.5h4M844 436.5h1M846 436.5h3M852 436.5h10M863 436.5h3M868 436.5h2M872 436.5h5M879 436.5h7M889 436.5h12M902 436.5h1M346 437.5h1M348 437.5h1M351 437.5h1M357 437.5h1M360 437.5h3M629 437.5h3M677 437.5h1M779 437.5h1M790 437.5h3M794 437.5h1M806 437.5h1M810 437.5h1M822 437.5h1M824 437.5h4M833 437.5h1M835 437.5h1M838 437.5h4M847 437.5h3M853 437.5h4M859 437.5h1M864 437.5h1M873 437.5h5M879 437.5h5M886 437.5h1M891 437.5h4M897 437.5h3M326 438.5h1M345 438.5h5M361 438.5h1M581 438.5h1M630 438.5h1M670 438.5h1M693 438.5h1M707 438.5h1M712 438.5h1M778 438.5h3M791 438.5h1M805 438.5h3M826 438.5h1M839 438.5h1M848 438.5h1M854 438.5h1M876 438.5h1M880 438.5h8M892 438.5h1M898 438.5h1M325 439.5h3M346 439.5h1M348 439.5h1M580 439.5h3M669 439.5h3M692 439.5h3M706 439.5h3M711 439.5h3M779 439.5h1M806 439.5h1M862 439.5h1M877 439.5h1M882 439.5h5M900 439.5h1M322 440.5h1M326 440.5h1M343 440.5h1M345 440.5h3M351 440.5h1M581 440.5h1M619 440.5h1M670 440.5h1M693 440.5h1M707 440.5h1M712 440.5h1M861 440.5h3M876 440.5h3M884 440.5h1M899 440.5h3M321 441.5h3M342 441.5h3M346 441.5h1M350 441.5h3M597 441.5h1M600 441.5h1M618 441.5h3M862 441.5h1M877 441.5h1M896 441.5h1M900 441.5h1M322 442.5h1M337 442.5h1M343 442.5h1M351 442.5h1M596 442.5h6M619 442.5h1M895 442.5h3M336 443.5h3M340 443.5h1M342 443.5h3M597 443.5h1M600 443.5h1M791 443.5h1M800 443.5h1M896 443.5h1M337 444.5h1M339 444.5h3M343 444.5h1M348 444.5h1M790 444.5h3M799 444.5h3M334 445.5h1M336 445.5h3M340 445.5h1M347 445.5h3M595 445.5h1M791 445.5h1M800 445.5h1M317 446.5h1M333 446.5h3M337 446.5h1M348 446.5h1M351 446.5h1M594 446.5h3M316 447.5h3M334 447.5h1M337 447.5h1M350 447.5h3M595 447.5h1M772 447.5h1M786 447.5h1M317 448.5h1M330 448.5h1M333 448.5h6M351 448.5h1M771 448.5h3M785 448.5h3M329 449.5h3M334 449.5h1M337 449.5h1M340 449.5h1M695 449.5h1M772 449.5h1M786 449.5h1M317 450.5h1M330 450.5h1M333 450.5h3M339 450.5h3M632 450.5h1M694 450.5h3M735 450.5h1M316 451.5h3M329 451.5h3M334 451.5h1M340 451.5h1M538 451.5h1M631 451.5h3M695 451.5h1M734 451.5h3M317 452.5h1M330 452.5h1M537 452.5h3M632 452.5h1M689 452.5h1M735 452.5h1M326 453.5h1M337 453.5h1M340 453.5h1M538 453.5h1M688 453.5h3M797 453.5h1M306 454.5h1M325 454.5h3M336 454.5h6M689 454.5h1M772 454.5h1M796 454.5h3M305 455.5h3M326 455.5h1M337 455.5h1M340 455.5h1M771 455.5h3M797 455.5h1M306 456.5h1M322 456.5h1M343 456.5h1M731 456.5h1M772 456.5h1M321 457.5h3M330 457.5h1M337 457.5h1M342 457.5h3M530 457.5h1M723 457.5h1M730 457.5h3M789 457.5h1M322 458.5h1M329 458.5h3M336 458.5h3M343 458.5h1M529 458.5h3M652 458.5h1M722 458.5h3M731 458.5h1M788 458.5h3M306 459.5h1M330 459.5h1M337 459.5h1M530 459.5h1M651 459.5h3M723 459.5h1M789 459.5h1M305 460.5h3M562 460.5h1M652 460.5h1M306 461.5h1M326 461.5h1M561 461.5h3M599 461.5h1M646 461.5h1M325 462.5h3M558 462.5h1M562 462.5h1M578 462.5h1M598 462.5h3M645 462.5h3M322 463.5h1M326 463.5h1M334 463.5h1M557 463.5h3M577 463.5h3M599 463.5h1M646 463.5h1M689 463.5h1M321 464.5h3M326 464.5h1M333 464.5h3M558 464.5h1M578 464.5h1M657 464.5h1M688 464.5h3M322 465.5h1M325 465.5h3M334 465.5h1M653 465.5h1M656 465.5h3M689 465.5h1M321 466.5h3M326 466.5h1M652 466.5h3M657 466.5h1M666 466.5h1M688 466.5h1M299 467.5h1M317 467.5h1M322 467.5h1M653 467.5h1M665 467.5h3M687 467.5h3M298 468.5h3M316 468.5h3M666 468.5h1M688 468.5h1M703 468.5h1M299 469.5h1M317 469.5h1M687 469.5h3M702 469.5h3M316 470.5h3M688 470.5h1M703 470.5h1M718 470.5h1M316 471.5h3M606 471.5h1M717 471.5h3M317 472.5h1M605 472.5h3M718 472.5h1M322 473.5h1M606 473.5h1M321 474.5h3M291 475.5h1M312 475.5h1M317 475.5h1M322 475.5h1M548 475.5h1M290 476.5h3M311 476.5h3M316 476.5h3M547 476.5h3M291 477.5h1M312 477.5h1M317 477.5h1M548 477.5h1M290 478.5h3M311 478.5h3M317 478.5h1M686 478.5h1M291 479.5h1M312 479.5h1M316 479.5h3M685 479.5h3M290 480.5h3M316 480.5h3M686 480.5h1M291 481.5h1M306 481.5h1M312 481.5h1M317 481.5h1M305 482.5h3M311 482.5h3M306 483.5h1M312 483.5h1M305 484.5h3M306 485.5h1M281 486.5h1M280 487.5h3M281 488.5h1M281 489.5h1M280 490.5h3M299 490.5h1M606 490.5h1M281 491.5h1M298 491.5h3M605 491.5h3M724 491.5h1M299 492.5h1M606 492.5h1M723 492.5h3M724 493.5h1M281 494.5h1M280 495.5h3M545 495.5h1M281 496.5h1M544 496.5h3M268 497.5h1M299 497.5h1M545 497.5h1M267 498.5h3M298 498.5h3M268 499.5h1M291 499.5h1M299 499.5h1M267 500.5h3M290 500.5h3M268 501.5h1M291 501.5h1M655 501.5h1M605 502.5h1M654 502.5h3M291 503.5h1M604 503.5h3M655 503.5h1M290 504.5h3M605 504.5h1M291 505.5h1M306 505.5h1M655 505.5h1M305 506.5h3M654 506.5h3M281 507.5h1M291 507.5h1M306 507.5h1M513 507.5h1M655 507.5h1M280 508.5h3M290 508.5h3M512 508.5h3M281 509.5h1M291 509.5h1M513 509.5h1M281 518.5h1M250 519.5h1M280 519.5h3M249 520.5h3M281 520.5h1M250 521.5h1M250 523.5h1M578 523.5h1M249 524.5h3M577 524.5h3M250 525.5h1M578 525.5h1M250 529.5h1M249 530.5h3M250 531.5h1M249 532.5h3M494 532.5h1M250 533.5h1M493 533.5h3M494 534.5h1M555 539.5h1M554 540.5h3M555 541.5h1M218 547.5h1M217 548.5h3M218 549.5h1M217 550.5h3M217 551.5h3M250 551.5h1M217 552.5h3M249 552.5h3M217 553.5h3M250 553.5h1M218 554.5h1M217 555.5h3M217 556.5h3M217 557.5h3M218 558.5h1M217 559.5h3M218 560.5h1M218 562.5h1M217 563.5h3M218 564.5h1M577 577.5h1M576 578.5h3M577 579.5h1M637 589.5h1M636 590.5h3M637 591.5h1M496 611.5h1M495 612.5h3M496 613.5h1" stroke="#f00" stroke-width="1" fill="none" shape-rendering="crispEdges"/>
</svg>
</body></html>
